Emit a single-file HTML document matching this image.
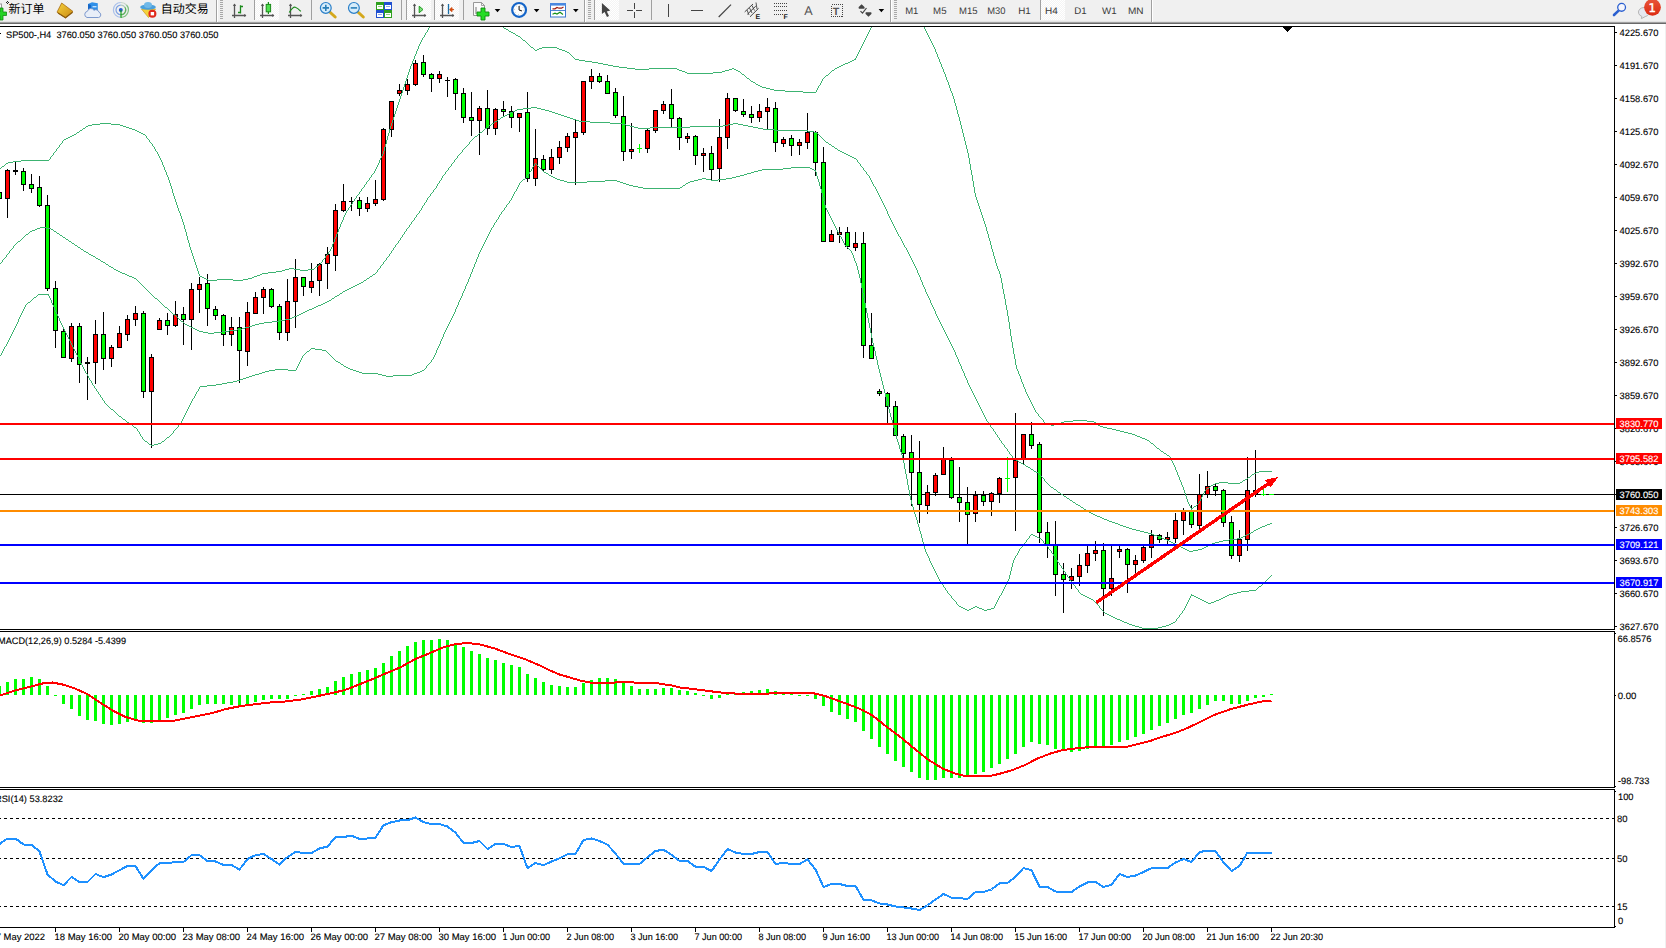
<!DOCTYPE html>
<html><head><meta charset="utf-8"><title>SP500-,H4</title>
<style>html,body{margin:0;padding:0;background:#fff;overflow:hidden}svg{display:block}</style>
</head><body>
<svg width="1666" height="948" viewBox="0 0 1666 948" font-family="Liberation Sans, sans-serif" text-rendering="geometricPrecision">
<rect x="0" y="0" width="1666" height="948" fill="#fff"/>
<g id="toolbar">
<rect x="0" y="0" width="1666" height="22" fill="#f0f0f0"/>
<rect x="0" y="21" width="1666" height="1" fill="#e3e3e3"/>
<rect x="0" y="22" width="1666" height="1" fill="#a0a0a0"/>
<rect x="0" y="23" width="1666" height="1" fill="#696969"/>
<defs>
<pattern id="chk" width="2" height="2" patternUnits="userSpaceOnUse"><rect width="2" height="2" fill="#f4f4f4"/><rect width="1" height="1" fill="#fff"/><rect x="1" y="1" width="1" height="1" fill="#fff"/></pattern>
<linearGradient id="gold" x1="0" y1="0" x2="1" y2="1"><stop offset="0" stop-color="#f7d23c"/><stop offset="1" stop-color="#c98a14"/></linearGradient>
<linearGradient id="redg" x1="0" y1="0" x2="0" y2="1"><stop offset="0" stop-color="#e8553a"/><stop offset="1" stop-color="#dc2a12"/></linearGradient>
<g id="axes"><path d="M2.5,4 V18 M0,15.5 H14" stroke="#555" stroke-width="1.3" fill="none"/><path d="M2.5,3.4 L0.9,5.9 H4.1 Z M14.4,15.5 L12.1,13.9 V17.1 Z" fill="#555"/></g>
<path id="dd" d="M0,0 H5.6 L2.8,3.2 Z" fill="#000"/>
<g id="grip" shape-rendering="crispEdges"><path d="M0,0.5H3 M0,2.5H3 M0,4.5H3 M0,6.5H3 M0,8.5H3 M0,10.5H3 M0,12.5H3 M0,14.5H3 M0,16.5H3 M0,18.5H3" stroke="#a8a8a8" stroke-width="1"/></g>
</defs>
<!-- pressed button backgrounds -->
<g shape-rendering="crispEdges">
<rect x="255" y="0" width="24" height="20" fill="url(#chk)"/>
<rect x="407" y="0" width="24" height="20" fill="url(#chk)"/>
<rect x="435" y="0" width="24" height="20" fill="url(#chk)"/>
<rect x="595" y="0" width="24" height="20" fill="url(#chk)"/>
<rect x="1041" y="0" width="24" height="20" fill="url(#chk)"/>
<!-- separators -->
<g fill="#a0a0a0">
<rect x="216" y="0" width="1" height="22"/><rect x="254" y="0" width="1" height="20"/><rect x="311" y="0" width="1" height="20"/>
<rect x="401" y="0" width="1" height="20"/><rect x="406" y="0" width="1" height="20"/><rect x="434" y="0" width="1" height="20"/><rect x="463" y="0" width="1" height="20"/>
<rect x="584" y="0" width="1" height="22"/><rect x="594" y="0" width="1" height="20"/><rect x="651" y="0" width="1" height="20"/>
<rect x="890" y="0" width="1" height="22"/><rect x="1040" y="0" width="1" height="20"/><rect x="1151" y="0" width="1" height="22"/>
</g>
<g fill="#fff"><rect x="217" y="0" width="1" height="22"/><rect x="585" y="0" width="1" height="22"/><rect x="891" y="0" width="1" height="22"/><rect x="1152" y="0" width="1" height="22"/></g>
</g>
<use href="#grip" x="220" y="0"/><use href="#grip" x="588" y="0"/><use href="#grip" x="894" y="0"/>
<!-- new order icon (cut) -->
<rect x="-3" y="4" width="4.5" height="9" fill="#fafafa" stroke="#999" stroke-width="1"/>
<path d="M-3,12 H0 V8 H3 V12 H6.5 V15.5 H3 V20 H0 V15.5 H-3 Z" fill="#25d225" stroke="#128a12" stroke-width="0.8"/>
<g shape-rendering="crispEdges" fill="#222"><rect x="7" y="1" width="1" height="1"/><rect x="6" y="2" width="1" height="1"/><rect x="8" y="2" width="1" height="1"/><rect x="7" y="3" width="1" height="1"/></g>
<text x="8.6" y="13.4" font-size="12" font-family="Liberation Sans, Noto Sans CJK SC, sans-serif" fill="#000">新订单</text>
<!-- book icon -->
<path d="M61.7,3 L73,11.5 L65.5,17.8 L57,12.2 Z" fill="url(#gold)" stroke="#a86c10" stroke-width="0.8"/>
<path d="M58,13 L65.5,17.8 L72.6,12.2" fill="none" stroke="#8a5a0c" stroke-width="1.2"/>
<!-- server cloud -->
<path d="M88,4 L92,2.3 L97.8,3.2 L97.8,11 L88,11 Z" fill="#2f8fe8"/>
<path d="M88,4 L91,5 L91,11 L88,11 Z" fill="#1668c8"/>
<rect x="92.5" y="6" width="4" height="1.4" fill="#bfe0ff"/>
<path d="M87,17.5 a3.2,3.2 0 0 1 0.4,-6.2 a3.6,3.6 0 0 1 6.6,-1 a3.2,3.2 0 0 1 5,2 a2.7,2.7 0 0 1 -0.4,5.2 Z" fill="#e8eef8" stroke="#6f8fc8" stroke-width="0.9"/>
<!-- signal -->
<g fill="none" stroke-width="1.2">
<path d="M120.8,2.5 A7.4,7.4 0 0 0 120.8,17.3" stroke="#a9c0ea"/><path d="M120.8,5.1 A4.8,4.8 0 0 0 120.8,14.7" stroke="#7fa2e2"/><path d="M120.8,2.5 A7.4,7.4 0 0 1 126.5,5" stroke="#c4d4c8"/><path d="M120.8,5.1 A4.8,4.8 0 0 1 124.8,7" stroke="#b0c8c0"/>
<path d="M120.8,17.3 A7.4,7.4 0 0 0 126.5,5" stroke="#7fc07f"/><path d="M120.8,14.7 A4.8,4.8 0 0 0 124.8,7" stroke="#5fb05f"/>
</g>
<circle cx="120.8" cy="9.9" r="2" fill="#2a5fd0"/>
<path d="M121,10 V17.8" stroke="#18a018" stroke-width="1.2"/>
<!-- hat icon -->
<path d="M141.5,9 L155.5,9 L148.5,17.5 Z" fill="#f4d23c" stroke="#c89a18" stroke-width="0.7"/>
<ellipse cx="148" cy="7.2" rx="7.8" ry="2.6" fill="#4aa0dc"/>
<ellipse cx="148" cy="5" rx="4" ry="3" fill="#6fb8e8"/>
<circle cx="152.4" cy="13.7" r="4" fill="#e0281a"/>
<rect x="150.7" y="12" width="3.4" height="3.4" fill="#fff"/>
<text x="160.8" y="13.4" font-size="12" font-family="Liberation Sans, Noto Sans CJK SC, sans-serif" fill="#000">自动交易</text>
<!-- chart type icons -->
<use href="#axes" x="232" y="0"/>
<path d="M240.5,5.3 V13.6 M240.5,6.5 H243 M238,12.5 H240.5" stroke="#1a8a1a" stroke-width="1.3" fill="none"/>
<use href="#axes" x="260" y="0"/>
<path d="M268.4,2 V14" stroke="#1a8a1a" stroke-width="1.2"/><rect x="266.2" y="4.4" width="4.4" height="7.4" fill="#4fe04f" stroke="#1a8a1a" stroke-width="1"/>
<use href="#axes" x="288" y="0"/>
<path d="M289.2,12.5 Q293,6.5 295.3,7.2 T300.8,11.4" stroke="#1a8a1a" stroke-width="1.2" fill="none"/>
<!-- zoom in/out -->
<path d="M329.8,12 L335.2,17" stroke="#d4a81c" stroke-width="3" stroke-linecap="round"/>
<circle cx="325.8" cy="7.9" r="5.4" fill="#d6ecfa" stroke="#2a7fc8" stroke-width="1.2"/>
<path d="M322.6,7.9 H329 M325.8,4.7 V11.1" stroke="#2a7fb8" stroke-width="1.6"/>
<path d="M357.9,12 L363.3,17" stroke="#d4a81c" stroke-width="3" stroke-linecap="round"/>
<circle cx="353.9" cy="7.9" r="5.4" fill="#d6ecfa" stroke="#2a7fc8" stroke-width="1.2"/>
<path d="M350.7,7.9 H357.1" stroke="#2a7fb8" stroke-width="1.6"/>
<!-- grid -->
<g shape-rendering="crispEdges">
<rect x="376" y="2" width="8" height="8" fill="#2ea01e"/><rect x="384" y="2" width="8" height="8" fill="#2050d0"/>
<rect x="376" y="10" width="8" height="8" fill="#2050d0"/><rect x="384" y="10" width="8" height="8" fill="#2ea01e"/>
<rect x="377" y="5" width="6" height="4" fill="#fff"/><rect x="385" y="5" width="6" height="4" fill="#fff"/>
<rect x="377" y="13" width="6" height="4" fill="#fff"/><rect x="385" y="13" width="6" height="4" fill="#fff"/>
<rect x="378" y="6" width="4" height="1" fill="#8fd080"/><rect x="386" y="6" width="4" height="1" fill="#8fa8e8"/>
<rect x="378" y="14" width="4" height="1" fill="#8fa8e8"/><rect x="386" y="14" width="4" height="1" fill="#8fd080"/>
</g>
<!-- autoscroll / shift -->
<use href="#axes" x="412" y="0"/>
<path d="M419.2,6.2 V12.8 L423,9.5 Z" fill="#7fe07f" stroke="#1a9a1a" stroke-width="1"/>
<use href="#axes" x="440" y="0"/>
<path d="M448.5,4 V14" stroke="#1a6fa8" stroke-width="1.3"/>
<path d="M454,9.6 H450 M449.6,9.6 L452,7.6 V11.6 Z" stroke="#d04a10" stroke-width="1" fill="#e05a10"/>
<!-- doc plus -->
<path d="M473.5,2.5 H481.5 L484.5,5.5 V15.5 H473.5 Z" fill="#fafafa" stroke="#8c8c8c" stroke-width="0.9"/>
<path d="M481.5,2.5 V5.5 H484.5" fill="none" stroke="#8c8c8c" stroke-width="0.8"/>
<path d="M476,7 v7" stroke="#555" stroke-width="0.8"/>
<path d="M477,12 H481 V8 H485 V12 H489 V16 H485 V20 H481 V16 H477 Z" fill="#25dc25" stroke="#108a10" stroke-width="0.9"/>
<use href="#dd" x="494.7" y="9"/>
<!-- clock -->
<circle cx="519.1" cy="9.9" r="6.9" fill="#fdfdfd" stroke="#1565c8" stroke-width="2.2"/><circle cx="519.1" cy="9.9" r="4.6" fill="none" stroke="#9aa" stroke-width="0.9" stroke-dasharray="0.7,2.9"/>
<path d="M519.1,9.9 V6 M519.1,9.9 L522,11" stroke="#222" stroke-width="1.1" fill="none"/>
<use href="#dd" x="533.8" y="9"/>
<!-- template -->
<rect x="550.5" y="3.5" width="15" height="13.5" fill="#fff" stroke="#3a78d0" stroke-width="1"/>
<rect x="550" y="3" width="16" height="2.6" fill="#4a88e0"/>
<path d="M551,10.5 H565" stroke="#3a78d0" stroke-width="0.9"/>
<path d="M552.5,8.8 L555,8.8 L557,7.4 L559,8.2 L561.5,8.2 L563.5,7" stroke="#a01c10" stroke-width="1.2" fill="none"/>
<path d="M552.5,14.2 L555,13.2 L557,14 L560,12.2 L563,14.4" stroke="#169016" stroke-width="1.2" fill="none"/>
<use href="#dd" x="573" y="9"/>
<!-- cursor -->
<path d="M601.9,3 V14 L604.6,12 L607,17 L609,16 L606.8,11.4 L610.2,10.6 Z" fill="#444"/>
<!-- crosshair -->
<g shape-rendering="crispEdges"><path d="M627,10.5 H633 M636,10.5 H642 M634.5,3 V9 M634.5,12 V18" stroke="#444" stroke-width="1"/>
<path d="M668.5,4 V17" stroke="#444" stroke-width="1"/><path d="M691,10.5 H703" stroke="#444" stroke-width="1"/></g>
<path d="M718.7,17 L731,4.6" stroke="#444" stroke-width="1.2"/>
<!-- channel -->
<g stroke="#444" stroke-width="1" fill="none"><path d="M744.7,11.9 L753,4 M750,16.8 L758.6,8.3 M747.3,14.3 L755.8,6.1"/><path d="M747,10 L749,15 M749.5,8 L752,13 M752,5.5 L754.5,10.5 M756,2.5 L757,9" stroke-width="0.9"/></g>
<text x="755.6" y="18.9" font-size="7" font-weight="bold" fill="#222">E</text>
<!-- fibo -->
<g stroke="#444" stroke-width="1" stroke-dasharray="1,1" shape-rendering="crispEdges"><path d="M774,3.5 H787 M774,6.5 H787 M774,10.5 H787 M774,14.5 H783"/></g>
<text x="783.6" y="18.9" font-size="7" font-weight="bold" fill="#222">F</text>
<text x="804.3" y="14.9" font-size="12.6" fill="#555">A</text>
<rect x="831.5" y="4.5" width="11" height="12" fill="none" stroke="#444" stroke-width="1" stroke-dasharray="1,1" shape-rendering="crispEdges"/>
<text x="832.8" y="14.9" font-size="10.6" font-weight="bold" fill="#555">T</text>
<!-- arrows -->
<path d="M861.6,4.2 L858.2,7.6 H865 Z M858.8,7.6 h5.6 v1.2 h-5.6 Z" fill="#444"/>
<path d="M868.5,16.8 L865.1,13.4 H871.9 Z M865.7,12.2 h5.6 v1.2 h-5.6 Z" fill="#444"/>
<path d="M860.5,11.2 L862.5,13.2 L866.5,8" stroke="#444" stroke-width="1.2" fill="none"/>
<use href="#dd" x="878.6" y="9"/>
<!-- timeframes -->
<g font-size="9.6" fill="#3a3a3a">
<text x="905.2" y="14" textLength="13.2" lengthAdjust="spacingAndGlyphs">M1</text>
<text x="933.1" y="14" textLength="13.4" lengthAdjust="spacingAndGlyphs">M5</text>
<text x="959.1" y="14" textLength="18.5" lengthAdjust="spacingAndGlyphs">M15</text>
<text x="987.3" y="14" textLength="18.2" lengthAdjust="spacingAndGlyphs">M30</text>
<text x="1018.2" y="14" textLength="12.6" lengthAdjust="spacingAndGlyphs">H1</text>
<text x="1045.1" y="14" textLength="12.8" lengthAdjust="spacingAndGlyphs">H4</text>
<text x="1074.2" y="14" textLength="12.4" lengthAdjust="spacingAndGlyphs">D1</text>
<text x="1102" y="14" textLength="14.6" lengthAdjust="spacingAndGlyphs">W1</text>
<text x="1128" y="14" textLength="15.6" lengthAdjust="spacingAndGlyphs">MN</text>
</g>
<!-- search -->
<path d="M1618.6,10.6 L1614,15" stroke="#2a5fd0" stroke-width="2.6" stroke-linecap="round"/>
<circle cx="1621.6" cy="7.35" r="3.9" fill="#f6f6fc" stroke="#2a5fd0" stroke-width="1.3"/>
<!-- bubble -->
<path d="M1641.4,18.6 L1641.8,16.4 A5.4,4.6 0 1 1 1645.2,16.6 Z" fill="#e6e8f0" stroke="#b4b4b4" stroke-width="1"/>
<circle cx="1652.5" cy="7.35" r="8.4" fill="url(#redg)"/>
<text x="1648.4" y="12" font-size="11.6" font-family="DejaVu Sans, sans-serif" fill="#fff" stroke="#fff" stroke-width="0.4">1</text>

</g>
<rect x="1665" y="24" width="1" height="924" fill="#f0f0f0"/>
<g shape-rendering="crispEdges">
<rect x="0" y="26" width="1615" height="1" fill="#000"/>
<rect x="1614" y="26" width="1" height="604" fill="#000"/>
<rect x="1614" y="631" width="1" height="157" fill="#000"/>
<rect x="1614" y="789" width="1" height="139" fill="#000"/>
<rect x="0" y="629" width="1615" height="1" fill="#000"/>
<rect x="0" y="631" width="1615" height="1" fill="#000"/>
<rect x="0" y="787" width="1615" height="1" fill="#000"/>
<rect x="0" y="789" width="1615" height="1" fill="#000"/>
<rect x="0" y="927" width="1615" height="1" fill="#000"/>
<rect x="1283" y="27" width="9" height="1" fill="#000"/>
<rect x="1284" y="28" width="7" height="1" fill="#000"/>
<rect x="1285" y="29" width="5" height="1" fill="#000"/>
<rect x="1286" y="30" width="3" height="1" fill="#000"/>
<rect x="1287" y="31" width="1" height="1" fill="#000"/>
<g clip-path="url(#cm)">
<defs><clipPath id="cm"><rect x="0" y="27" width="1614" height="602"/></clipPath></defs>
<rect x="0" y="494" width="1614" height="1" fill="#000"/>
<rect x="-1" y="192" width="1" height="7" fill="#000"/>
<rect x="-3" y="192" width="5" height="7" fill="#000"/>
<rect x="-2" y="193" width="3" height="5" fill="#00ff00"/>
<rect x="7" y="169" width="1" height="49" fill="#000"/>
<rect x="5" y="170" width="5" height="29" fill="#000"/>
<rect x="6" y="171" width="3" height="27" fill="#ff0000"/>
<rect x="15" y="162" width="1" height="13" fill="#000"/>
<rect x="13" y="170" width="5" height="2" fill="#000"/>
<rect x="23" y="168" width="1" height="23" fill="#000"/>
<rect x="21" y="171" width="5" height="14" fill="#000"/>
<rect x="22" y="172" width="3" height="12" fill="#00ff00"/>
<rect x="31" y="174" width="1" height="19" fill="#000"/>
<rect x="29" y="184" width="5" height="5" fill="#000"/>
<rect x="30" y="185" width="3" height="3" fill="#00ff00"/>
<rect x="39" y="176" width="1" height="31" fill="#000"/>
<rect x="37" y="187" width="5" height="19" fill="#000"/>
<rect x="38" y="188" width="3" height="17" fill="#00ff00"/>
<rect x="47" y="195" width="1" height="96" fill="#000"/>
<rect x="45" y="205" width="5" height="84" fill="#000"/>
<rect x="46" y="206" width="3" height="82" fill="#00ff00"/>
<rect x="55" y="281" width="1" height="67" fill="#000"/>
<rect x="53" y="288" width="5" height="43" fill="#000"/>
<rect x="54" y="289" width="3" height="41" fill="#00ff00"/>
<rect x="63" y="329" width="1" height="29" fill="#000"/>
<rect x="61" y="331" width="5" height="27" fill="#000"/>
<rect x="62" y="332" width="3" height="25" fill="#00ff00"/>
<rect x="71" y="323" width="1" height="39" fill="#000"/>
<rect x="69" y="326" width="5" height="33" fill="#000"/>
<rect x="70" y="327" width="3" height="31" fill="#ff0000"/>
<rect x="79" y="323" width="1" height="60" fill="#000"/>
<rect x="77" y="326" width="5" height="39" fill="#000"/>
<rect x="78" y="327" width="3" height="37" fill="#00ff00"/>
<rect x="87" y="357" width="1" height="43" fill="#000"/>
<rect x="85" y="362" width="5" height="2" fill="#000"/>
<rect x="95" y="320" width="1" height="64" fill="#000"/>
<rect x="93" y="334" width="5" height="29" fill="#000"/>
<rect x="94" y="335" width="3" height="27" fill="#ff0000"/>
<rect x="103" y="312" width="1" height="58" fill="#000"/>
<rect x="101" y="334" width="5" height="25" fill="#000"/>
<rect x="102" y="335" width="3" height="23" fill="#00ff00"/>
<rect x="111" y="345" width="1" height="22" fill="#000"/>
<rect x="109" y="347" width="5" height="12" fill="#000"/>
<rect x="110" y="348" width="3" height="10" fill="#ff0000"/>
<rect x="119" y="326" width="1" height="22" fill="#000"/>
<rect x="117" y="333" width="5" height="15" fill="#000"/>
<rect x="118" y="334" width="3" height="13" fill="#ff0000"/>
<rect x="127" y="315" width="1" height="26" fill="#000"/>
<rect x="125" y="319" width="5" height="16" fill="#000"/>
<rect x="126" y="320" width="3" height="14" fill="#ff0000"/>
<rect x="135" y="306" width="1" height="20" fill="#000"/>
<rect x="133" y="313" width="5" height="7" fill="#000"/>
<rect x="134" y="314" width="3" height="5" fill="#ff0000"/>
<rect x="143" y="311" width="1" height="87" fill="#000"/>
<rect x="141" y="313" width="5" height="79" fill="#000"/>
<rect x="142" y="314" width="3" height="77" fill="#00ff00"/>
<rect x="151" y="354" width="1" height="94" fill="#000"/>
<rect x="149" y="357" width="5" height="35" fill="#000"/>
<rect x="150" y="358" width="3" height="33" fill="#ff0000"/>
<rect x="159" y="318" width="1" height="12" fill="#000"/>
<rect x="157" y="320" width="5" height="10" fill="#000"/>
<rect x="158" y="321" width="3" height="8" fill="#ff0000"/>
<rect x="167" y="313" width="1" height="22" fill="#000"/>
<rect x="165" y="320" width="5" height="6" fill="#000"/>
<rect x="166" y="321" width="3" height="4" fill="#00ff00"/>
<rect x="175" y="301" width="1" height="26" fill="#000"/>
<rect x="173" y="314" width="5" height="12" fill="#000"/>
<rect x="174" y="315" width="3" height="10" fill="#ff0000"/>
<rect x="183" y="307" width="1" height="38" fill="#000"/>
<rect x="181" y="314" width="5" height="6" fill="#000"/>
<rect x="182" y="315" width="3" height="4" fill="#00ff00"/>
<rect x="191" y="283" width="1" height="67" fill="#000"/>
<rect x="189" y="289" width="5" height="31" fill="#000"/>
<rect x="190" y="290" width="3" height="29" fill="#ff0000"/>
<rect x="199" y="277" width="1" height="36" fill="#000"/>
<rect x="197" y="284" width="5" height="6" fill="#000"/>
<rect x="198" y="285" width="3" height="4" fill="#ff0000"/>
<rect x="207" y="274" width="1" height="52" fill="#000"/>
<rect x="205" y="283" width="5" height="26" fill="#000"/>
<rect x="206" y="284" width="3" height="24" fill="#00ff00"/>
<rect x="215" y="306" width="1" height="14" fill="#000"/>
<rect x="213" y="309" width="5" height="7" fill="#000"/>
<rect x="214" y="310" width="3" height="5" fill="#00ff00"/>
<rect x="223" y="314" width="1" height="32" fill="#000"/>
<rect x="221" y="315" width="5" height="20" fill="#000"/>
<rect x="222" y="316" width="3" height="18" fill="#00ff00"/>
<rect x="231" y="317" width="1" height="29" fill="#000"/>
<rect x="229" y="327" width="5" height="8" fill="#000"/>
<rect x="230" y="328" width="3" height="6" fill="#ff0000"/>
<rect x="239" y="317" width="1" height="66" fill="#000"/>
<rect x="237" y="327" width="5" height="24" fill="#000"/>
<rect x="238" y="328" width="3" height="22" fill="#00ff00"/>
<rect x="247" y="302" width="1" height="64" fill="#000"/>
<rect x="245" y="312" width="5" height="40" fill="#000"/>
<rect x="246" y="313" width="3" height="38" fill="#ff0000"/>
<rect x="255" y="292" width="1" height="22" fill="#000"/>
<rect x="253" y="297" width="5" height="17" fill="#000"/>
<rect x="254" y="298" width="3" height="15" fill="#ff0000"/>
<rect x="263" y="287" width="1" height="27" fill="#000"/>
<rect x="261" y="289" width="5" height="9" fill="#000"/>
<rect x="262" y="290" width="3" height="7" fill="#ff0000"/>
<rect x="271" y="288" width="1" height="20" fill="#000"/>
<rect x="269" y="289" width="5" height="18" fill="#000"/>
<rect x="270" y="290" width="3" height="16" fill="#00ff00"/>
<rect x="279" y="304" width="1" height="36" fill="#000"/>
<rect x="277" y="306" width="5" height="27" fill="#000"/>
<rect x="278" y="307" width="3" height="25" fill="#00ff00"/>
<rect x="287" y="279" width="1" height="62" fill="#000"/>
<rect x="285" y="301" width="5" height="32" fill="#000"/>
<rect x="286" y="302" width="3" height="30" fill="#ff0000"/>
<rect x="295" y="259" width="1" height="69" fill="#000"/>
<rect x="293" y="277" width="5" height="25" fill="#000"/>
<rect x="294" y="278" width="3" height="23" fill="#ff0000"/>
<rect x="303" y="277" width="1" height="19" fill="#000"/>
<rect x="301" y="277" width="5" height="10" fill="#000"/>
<rect x="302" y="278" width="3" height="8" fill="#00ff00"/>
<rect x="311" y="263" width="1" height="30" fill="#000"/>
<rect x="309" y="281" width="5" height="7" fill="#000"/>
<rect x="310" y="282" width="3" height="5" fill="#ff0000"/>
<rect x="319" y="263" width="1" height="33" fill="#000"/>
<rect x="317" y="264" width="5" height="17" fill="#000"/>
<rect x="318" y="265" width="3" height="15" fill="#ff0000"/>
<rect x="327" y="247" width="1" height="42" fill="#000"/>
<rect x="325" y="254" width="5" height="10" fill="#000"/>
<rect x="326" y="255" width="3" height="8" fill="#ff0000"/>
<rect x="335" y="204" width="1" height="67" fill="#000"/>
<rect x="333" y="210" width="5" height="46" fill="#000"/>
<rect x="334" y="211" width="3" height="44" fill="#ff0000"/>
<rect x="343" y="184" width="1" height="28" fill="#000"/>
<rect x="341" y="201" width="5" height="10" fill="#000"/>
<rect x="342" y="202" width="3" height="8" fill="#ff0000"/>
<rect x="351" y="197" width="1" height="14" fill="#000"/>
<rect x="349" y="201" width="5" height="1" fill="#000"/>
<rect x="359" y="197" width="1" height="19" fill="#000"/>
<rect x="357" y="200" width="5" height="9" fill="#000"/>
<rect x="358" y="201" width="3" height="7" fill="#00ff00"/>
<rect x="367" y="197" width="1" height="15" fill="#000"/>
<rect x="365" y="203" width="5" height="6" fill="#000"/>
<rect x="366" y="204" width="3" height="4" fill="#ff0000"/>
<rect x="375" y="180" width="1" height="26" fill="#000"/>
<rect x="373" y="199" width="5" height="5" fill="#000"/>
<rect x="374" y="200" width="3" height="3" fill="#ff0000"/>
<rect x="383" y="128" width="1" height="73" fill="#000"/>
<rect x="381" y="129" width="5" height="71" fill="#000"/>
<rect x="382" y="130" width="3" height="69" fill="#ff0000"/>
<rect x="391" y="101" width="1" height="36" fill="#000"/>
<rect x="389" y="101" width="5" height="29" fill="#000"/>
<rect x="390" y="102" width="3" height="27" fill="#ff0000"/>
<rect x="399" y="84" width="1" height="12" fill="#000"/>
<rect x="397" y="90" width="5" height="4" fill="#000"/>
<rect x="398" y="91" width="3" height="2" fill="#ff0000"/>
<rect x="407" y="79" width="1" height="16" fill="#000"/>
<rect x="405" y="84" width="5" height="7" fill="#000"/>
<rect x="406" y="85" width="3" height="5" fill="#ff0000"/>
<rect x="415" y="60" width="1" height="26" fill="#000"/>
<rect x="413" y="63" width="5" height="22" fill="#000"/>
<rect x="414" y="64" width="3" height="20" fill="#ff0000"/>
<rect x="423" y="55" width="1" height="22" fill="#000"/>
<rect x="421" y="62" width="5" height="13" fill="#000"/>
<rect x="422" y="63" width="3" height="11" fill="#00ff00"/>
<rect x="431" y="73" width="1" height="19" fill="#000"/>
<rect x="429" y="74" width="5" height="5" fill="#000"/>
<rect x="430" y="75" width="3" height="3" fill="#00ff00"/>
<rect x="439" y="71" width="1" height="12" fill="#000"/>
<rect x="437" y="74" width="5" height="5" fill="#000"/>
<rect x="438" y="75" width="3" height="3" fill="#ff0000"/>
<rect x="447" y="77" width="1" height="20" fill="#000"/>
<rect x="445" y="80" width="5" height="1" fill="#000"/>
<rect x="455" y="78" width="1" height="32" fill="#000"/>
<rect x="453" y="79" width="5" height="15" fill="#000"/>
<rect x="454" y="80" width="3" height="13" fill="#00ff00"/>
<rect x="463" y="88" width="1" height="35" fill="#000"/>
<rect x="461" y="93" width="5" height="25" fill="#000"/>
<rect x="462" y="94" width="3" height="23" fill="#00ff00"/>
<rect x="471" y="92" width="1" height="44" fill="#000"/>
<rect x="469" y="117" width="5" height="4" fill="#000"/>
<rect x="470" y="118" width="3" height="2" fill="#00ff00"/>
<rect x="479" y="106" width="1" height="49" fill="#000"/>
<rect x="477" y="108" width="5" height="13" fill="#000"/>
<rect x="478" y="109" width="3" height="11" fill="#ff0000"/>
<rect x="487" y="90" width="1" height="45" fill="#000"/>
<rect x="485" y="108" width="5" height="21" fill="#000"/>
<rect x="486" y="109" width="3" height="19" fill="#00ff00"/>
<rect x="495" y="108" width="1" height="27" fill="#000"/>
<rect x="493" y="109" width="5" height="20" fill="#000"/>
<rect x="494" y="110" width="3" height="18" fill="#ff0000"/>
<rect x="503" y="101" width="1" height="15" fill="#000"/>
<rect x="501" y="109" width="5" height="3" fill="#000"/>
<rect x="502" y="110" width="3" height="1" fill="#00ff00"/>
<rect x="511" y="106" width="1" height="22" fill="#000"/>
<rect x="509" y="111" width="5" height="7" fill="#000"/>
<rect x="510" y="112" width="3" height="5" fill="#00ff00"/>
<rect x="519" y="113" width="1" height="19" fill="#000"/>
<rect x="517" y="113" width="5" height="5" fill="#000"/>
<rect x="518" y="114" width="3" height="3" fill="#ff0000"/>
<rect x="527" y="92" width="1" height="90" fill="#000"/>
<rect x="525" y="112" width="5" height="67" fill="#000"/>
<rect x="526" y="113" width="3" height="65" fill="#00ff00"/>
<rect x="535" y="129" width="1" height="57" fill="#000"/>
<rect x="533" y="158" width="5" height="21" fill="#000"/>
<rect x="534" y="159" width="3" height="19" fill="#ff0000"/>
<rect x="543" y="155" width="1" height="17" fill="#000"/>
<rect x="541" y="159" width="5" height="11" fill="#000"/>
<rect x="542" y="160" width="3" height="9" fill="#00ff00"/>
<rect x="551" y="149" width="1" height="25" fill="#000"/>
<rect x="549" y="157" width="5" height="13" fill="#000"/>
<rect x="550" y="158" width="3" height="11" fill="#ff0000"/>
<rect x="559" y="141" width="1" height="23" fill="#000"/>
<rect x="557" y="147" width="5" height="11" fill="#000"/>
<rect x="558" y="148" width="3" height="9" fill="#ff0000"/>
<rect x="567" y="133" width="1" height="19" fill="#000"/>
<rect x="565" y="136" width="5" height="12" fill="#000"/>
<rect x="566" y="137" width="3" height="10" fill="#ff0000"/>
<rect x="575" y="120" width="1" height="65" fill="#000"/>
<rect x="573" y="132" width="5" height="6" fill="#000"/>
<rect x="574" y="133" width="3" height="4" fill="#ff0000"/>
<rect x="583" y="81" width="1" height="54" fill="#000"/>
<rect x="581" y="81" width="5" height="52" fill="#000"/>
<rect x="582" y="82" width="3" height="50" fill="#ff0000"/>
<rect x="591" y="69" width="1" height="20" fill="#000"/>
<rect x="589" y="76" width="5" height="6" fill="#000"/>
<rect x="590" y="77" width="3" height="4" fill="#ff0000"/>
<rect x="599" y="73" width="1" height="10" fill="#000"/>
<rect x="597" y="76" width="5" height="6" fill="#000"/>
<rect x="598" y="77" width="3" height="4" fill="#00ff00"/>
<rect x="607" y="75" width="1" height="19" fill="#000"/>
<rect x="605" y="81" width="5" height="13" fill="#000"/>
<rect x="606" y="82" width="3" height="11" fill="#00ff00"/>
<rect x="615" y="88" width="1" height="30" fill="#000"/>
<rect x="613" y="92" width="5" height="24" fill="#000"/>
<rect x="614" y="93" width="3" height="22" fill="#00ff00"/>
<rect x="623" y="96" width="1" height="65" fill="#000"/>
<rect x="621" y="116" width="5" height="36" fill="#000"/>
<rect x="622" y="117" width="3" height="34" fill="#00ff00"/>
<rect x="631" y="123" width="1" height="36" fill="#000"/>
<rect x="629" y="149" width="5" height="3" fill="#000"/>
<rect x="630" y="150" width="3" height="1" fill="#ff0000"/>
<rect x="639" y="144" width="1" height="9" fill="#00ff00"/>
<rect x="637" y="148" width="5" height="1" fill="#00ff00"/>
<rect x="647" y="128" width="1" height="25" fill="#000"/>
<rect x="645" y="130" width="5" height="19" fill="#000"/>
<rect x="646" y="131" width="3" height="17" fill="#ff0000"/>
<rect x="655" y="110" width="1" height="23" fill="#000"/>
<rect x="653" y="110" width="5" height="21" fill="#000"/>
<rect x="654" y="111" width="3" height="19" fill="#ff0000"/>
<rect x="663" y="101" width="1" height="13" fill="#000"/>
<rect x="661" y="104" width="5" height="7" fill="#000"/>
<rect x="662" y="105" width="3" height="5" fill="#ff0000"/>
<rect x="671" y="89" width="1" height="39" fill="#000"/>
<rect x="669" y="104" width="5" height="15" fill="#000"/>
<rect x="670" y="105" width="3" height="13" fill="#00ff00"/>
<rect x="679" y="117" width="1" height="33" fill="#000"/>
<rect x="677" y="118" width="5" height="20" fill="#000"/>
<rect x="678" y="119" width="3" height="18" fill="#00ff00"/>
<rect x="687" y="133" width="1" height="10" fill="#000"/>
<rect x="685" y="136" width="5" height="3" fill="#000"/>
<rect x="686" y="137" width="3" height="1" fill="#ff0000"/>
<rect x="695" y="135" width="1" height="30" fill="#000"/>
<rect x="693" y="136" width="5" height="20" fill="#000"/>
<rect x="694" y="137" width="3" height="18" fill="#00ff00"/>
<rect x="703" y="148" width="1" height="24" fill="#000"/>
<rect x="701" y="153" width="5" height="3" fill="#000"/>
<rect x="702" y="154" width="3" height="1" fill="#ff0000"/>
<rect x="711" y="146" width="1" height="34" fill="#000"/>
<rect x="709" y="153" width="5" height="17" fill="#000"/>
<rect x="710" y="154" width="3" height="15" fill="#00ff00"/>
<rect x="719" y="119" width="1" height="63" fill="#000"/>
<rect x="717" y="137" width="5" height="32" fill="#000"/>
<rect x="718" y="138" width="3" height="30" fill="#ff0000"/>
<rect x="727" y="93" width="1" height="56" fill="#000"/>
<rect x="725" y="98" width="5" height="40" fill="#000"/>
<rect x="726" y="99" width="3" height="38" fill="#ff0000"/>
<rect x="735" y="98" width="1" height="14" fill="#000"/>
<rect x="733" y="98" width="5" height="13" fill="#000"/>
<rect x="734" y="99" width="3" height="11" fill="#00ff00"/>
<rect x="743" y="99" width="1" height="18" fill="#000"/>
<rect x="741" y="111" width="5" height="4" fill="#000"/>
<rect x="742" y="112" width="3" height="2" fill="#00ff00"/>
<rect x="751" y="106" width="1" height="17" fill="#000"/>
<rect x="749" y="114" width="5" height="4" fill="#000"/>
<rect x="750" y="115" width="3" height="2" fill="#00ff00"/>
<rect x="759" y="104" width="1" height="18" fill="#000"/>
<rect x="757" y="111" width="5" height="7" fill="#000"/>
<rect x="758" y="112" width="3" height="5" fill="#ff0000"/>
<rect x="767" y="98" width="1" height="31" fill="#000"/>
<rect x="765" y="107" width="5" height="5" fill="#000"/>
<rect x="766" y="108" width="3" height="3" fill="#ff0000"/>
<rect x="775" y="102" width="1" height="50" fill="#000"/>
<rect x="773" y="108" width="5" height="35" fill="#000"/>
<rect x="774" y="109" width="3" height="33" fill="#00ff00"/>
<rect x="783" y="137" width="1" height="10" fill="#000"/>
<rect x="781" y="139" width="5" height="5" fill="#000"/>
<rect x="782" y="140" width="3" height="3" fill="#ff0000"/>
<rect x="791" y="135" width="1" height="21" fill="#000"/>
<rect x="789" y="138" width="5" height="8" fill="#000"/>
<rect x="790" y="139" width="3" height="6" fill="#00ff00"/>
<rect x="799" y="139" width="1" height="16" fill="#000"/>
<rect x="797" y="142" width="5" height="4" fill="#000"/>
<rect x="798" y="143" width="3" height="2" fill="#ff0000"/>
<rect x="807" y="113" width="1" height="36" fill="#000"/>
<rect x="805" y="132" width="5" height="11" fill="#000"/>
<rect x="806" y="133" width="3" height="9" fill="#ff0000"/>
<rect x="815" y="131" width="1" height="45" fill="#000"/>
<rect x="813" y="132" width="5" height="31" fill="#000"/>
<rect x="814" y="133" width="3" height="29" fill="#00ff00"/>
<rect x="823" y="147" width="1" height="95" fill="#000"/>
<rect x="821" y="162" width="5" height="80" fill="#000"/>
<rect x="822" y="163" width="3" height="78" fill="#00ff00"/>
<rect x="831" y="230" width="1" height="12" fill="#000"/>
<rect x="829" y="234" width="5" height="8" fill="#000"/>
<rect x="830" y="235" width="3" height="6" fill="#ff0000"/>
<rect x="839" y="227" width="1" height="16" fill="#000"/>
<rect x="837" y="232" width="5" height="3" fill="#000"/>
<rect x="838" y="233" width="3" height="1" fill="#ff0000"/>
<rect x="847" y="227" width="1" height="22" fill="#000"/>
<rect x="845" y="232" width="5" height="15" fill="#000"/>
<rect x="846" y="233" width="3" height="13" fill="#00ff00"/>
<rect x="855" y="232" width="1" height="19" fill="#000"/>
<rect x="853" y="243" width="5" height="5" fill="#000"/>
<rect x="854" y="244" width="3" height="3" fill="#ff0000"/>
<rect x="863" y="232" width="1" height="126" fill="#000"/>
<rect x="861" y="243" width="5" height="103" fill="#000"/>
<rect x="862" y="244" width="3" height="101" fill="#00ff00"/>
<rect x="871" y="313" width="1" height="46" fill="#000"/>
<rect x="869" y="345" width="5" height="14" fill="#000"/>
<rect x="870" y="346" width="3" height="12" fill="#00ff00"/>
<rect x="879" y="389" width="1" height="7" fill="#000"/>
<rect x="877" y="391" width="5" height="3" fill="#000"/>
<rect x="878" y="392" width="3" height="1" fill="#00ff00"/>
<rect x="887" y="392" width="1" height="31" fill="#000"/>
<rect x="885" y="393" width="5" height="14" fill="#000"/>
<rect x="886" y="394" width="3" height="12" fill="#00ff00"/>
<rect x="895" y="401" width="1" height="35" fill="#000"/>
<rect x="893" y="406" width="5" height="30" fill="#000"/>
<rect x="894" y="407" width="3" height="28" fill="#00ff00"/>
<rect x="903" y="434" width="1" height="24" fill="#000"/>
<rect x="901" y="436" width="5" height="18" fill="#000"/>
<rect x="902" y="437" width="3" height="16" fill="#00ff00"/>
<rect x="911" y="435" width="1" height="71" fill="#000"/>
<rect x="909" y="452" width="5" height="21" fill="#000"/>
<rect x="910" y="453" width="3" height="19" fill="#00ff00"/>
<rect x="919" y="441" width="1" height="82" fill="#000"/>
<rect x="917" y="472" width="5" height="33" fill="#000"/>
<rect x="918" y="473" width="3" height="31" fill="#00ff00"/>
<rect x="927" y="485" width="1" height="29" fill="#000"/>
<rect x="925" y="492" width="5" height="14" fill="#000"/>
<rect x="926" y="493" width="3" height="12" fill="#ff0000"/>
<rect x="935" y="473" width="1" height="23" fill="#000"/>
<rect x="933" y="475" width="5" height="18" fill="#000"/>
<rect x="934" y="476" width="3" height="16" fill="#ff0000"/>
<rect x="943" y="447" width="1" height="28" fill="#000"/>
<rect x="941" y="459" width="5" height="16" fill="#000"/>
<rect x="942" y="460" width="3" height="14" fill="#ff0000"/>
<rect x="951" y="457" width="1" height="42" fill="#000"/>
<rect x="949" y="460" width="5" height="38" fill="#000"/>
<rect x="950" y="461" width="3" height="36" fill="#00ff00"/>
<rect x="959" y="467" width="1" height="55" fill="#000"/>
<rect x="957" y="497" width="5" height="6" fill="#000"/>
<rect x="958" y="498" width="3" height="4" fill="#00ff00"/>
<rect x="967" y="487" width="1" height="58" fill="#000"/>
<rect x="965" y="502" width="5" height="13" fill="#000"/>
<rect x="966" y="503" width="3" height="11" fill="#00ff00"/>
<rect x="975" y="491" width="1" height="31" fill="#000"/>
<rect x="973" y="495" width="5" height="19" fill="#000"/>
<rect x="974" y="496" width="3" height="17" fill="#ff0000"/>
<rect x="983" y="491" width="1" height="15" fill="#000"/>
<rect x="981" y="495" width="5" height="7" fill="#000"/>
<rect x="982" y="496" width="3" height="5" fill="#00ff00"/>
<rect x="991" y="492" width="1" height="24" fill="#000"/>
<rect x="989" y="493" width="5" height="9" fill="#000"/>
<rect x="990" y="494" width="3" height="7" fill="#ff0000"/>
<rect x="999" y="477" width="1" height="26" fill="#000"/>
<rect x="997" y="478" width="5" height="16" fill="#000"/>
<rect x="998" y="479" width="3" height="14" fill="#ff0000"/>
<rect x="1007" y="457" width="1" height="35" fill="#00ff00"/>
<rect x="1005" y="478" width="5" height="1" fill="#00ff00"/>
<rect x="1015" y="413" width="1" height="118" fill="#000"/>
<rect x="1013" y="460" width="5" height="18" fill="#000"/>
<rect x="1014" y="461" width="3" height="16" fill="#ff0000"/>
<rect x="1023" y="434" width="1" height="31" fill="#000"/>
<rect x="1021" y="434" width="5" height="26" fill="#000"/>
<rect x="1022" y="435" width="3" height="24" fill="#ff0000"/>
<rect x="1031" y="422" width="1" height="27" fill="#000"/>
<rect x="1029" y="434" width="5" height="12" fill="#000"/>
<rect x="1030" y="435" width="3" height="10" fill="#00ff00"/>
<rect x="1039" y="442" width="1" height="101" fill="#000"/>
<rect x="1037" y="444" width="5" height="89" fill="#000"/>
<rect x="1038" y="445" width="3" height="87" fill="#00ff00"/>
<rect x="1047" y="522" width="1" height="36" fill="#000"/>
<rect x="1045" y="532" width="5" height="13" fill="#000"/>
<rect x="1046" y="533" width="3" height="11" fill="#00ff00"/>
<rect x="1055" y="521" width="1" height="75" fill="#000"/>
<rect x="1053" y="544" width="5" height="31" fill="#000"/>
<rect x="1054" y="545" width="3" height="29" fill="#00ff00"/>
<rect x="1063" y="563" width="1" height="50" fill="#000"/>
<rect x="1061" y="574" width="5" height="6" fill="#000"/>
<rect x="1062" y="575" width="3" height="4" fill="#00ff00"/>
<rect x="1071" y="568" width="1" height="21" fill="#000"/>
<rect x="1069" y="576" width="5" height="5" fill="#000"/>
<rect x="1070" y="577" width="3" height="3" fill="#ff0000"/>
<rect x="1079" y="554" width="1" height="32" fill="#000"/>
<rect x="1077" y="565" width="5" height="12" fill="#000"/>
<rect x="1078" y="566" width="3" height="10" fill="#ff0000"/>
<rect x="1087" y="545" width="1" height="28" fill="#000"/>
<rect x="1085" y="553" width="5" height="13" fill="#000"/>
<rect x="1086" y="554" width="3" height="11" fill="#ff0000"/>
<rect x="1095" y="541" width="1" height="20" fill="#000"/>
<rect x="1093" y="550" width="5" height="4" fill="#000"/>
<rect x="1094" y="551" width="3" height="2" fill="#ff0000"/>
<rect x="1103" y="543" width="1" height="73" fill="#000"/>
<rect x="1101" y="550" width="5" height="39" fill="#000"/>
<rect x="1102" y="551" width="3" height="37" fill="#00ff00"/>
<rect x="1111" y="546" width="1" height="50" fill="#000"/>
<rect x="1109" y="578" width="5" height="11" fill="#000"/>
<rect x="1110" y="579" width="3" height="9" fill="#ff0000"/>
<rect x="1119" y="546" width="1" height="12" fill="#000"/>
<rect x="1117" y="549" width="5" height="3" fill="#000"/>
<rect x="1118" y="550" width="3" height="1" fill="#ff0000"/>
<rect x="1127" y="548" width="1" height="45" fill="#000"/>
<rect x="1125" y="549" width="5" height="16" fill="#000"/>
<rect x="1126" y="550" width="3" height="14" fill="#00ff00"/>
<rect x="1135" y="555" width="1" height="18" fill="#000"/>
<rect x="1133" y="560" width="5" height="5" fill="#000"/>
<rect x="1134" y="561" width="3" height="3" fill="#ff0000"/>
<rect x="1143" y="546" width="1" height="17" fill="#000"/>
<rect x="1141" y="547" width="5" height="14" fill="#000"/>
<rect x="1142" y="548" width="3" height="12" fill="#ff0000"/>
<rect x="1151" y="530" width="1" height="28" fill="#000"/>
<rect x="1149" y="535" width="5" height="13" fill="#000"/>
<rect x="1150" y="536" width="3" height="11" fill="#ff0000"/>
<rect x="1159" y="534" width="1" height="9" fill="#000"/>
<rect x="1157" y="535" width="5" height="5" fill="#000"/>
<rect x="1158" y="536" width="3" height="3" fill="#00ff00"/>
<rect x="1167" y="532" width="1" height="12" fill="#000"/>
<rect x="1165" y="537" width="5" height="3" fill="#000"/>
<rect x="1166" y="538" width="3" height="1" fill="#ff0000"/>
<rect x="1175" y="513" width="1" height="30" fill="#000"/>
<rect x="1173" y="520" width="5" height="19" fill="#000"/>
<rect x="1174" y="521" width="3" height="17" fill="#ff0000"/>
<rect x="1183" y="508" width="1" height="27" fill="#000"/>
<rect x="1181" y="511" width="5" height="10" fill="#000"/>
<rect x="1182" y="512" width="3" height="8" fill="#ff0000"/>
<rect x="1191" y="505" width="1" height="23" fill="#000"/>
<rect x="1189" y="511" width="5" height="14" fill="#000"/>
<rect x="1190" y="512" width="3" height="12" fill="#00ff00"/>
<rect x="1199" y="474" width="1" height="55" fill="#000"/>
<rect x="1197" y="494" width="5" height="32" fill="#000"/>
<rect x="1198" y="495" width="3" height="30" fill="#ff0000"/>
<rect x="1207" y="471" width="1" height="27" fill="#000"/>
<rect x="1205" y="486" width="5" height="9" fill="#000"/>
<rect x="1206" y="487" width="3" height="7" fill="#ff0000"/>
<rect x="1215" y="484" width="1" height="12" fill="#000"/>
<rect x="1213" y="486" width="5" height="5" fill="#000"/>
<rect x="1214" y="487" width="3" height="3" fill="#00ff00"/>
<rect x="1223" y="489" width="1" height="38" fill="#000"/>
<rect x="1221" y="490" width="5" height="33" fill="#000"/>
<rect x="1222" y="491" width="3" height="31" fill="#00ff00"/>
<rect x="1231" y="516" width="1" height="43" fill="#000"/>
<rect x="1229" y="522" width="5" height="34" fill="#000"/>
<rect x="1230" y="523" width="3" height="32" fill="#00ff00"/>
<rect x="1239" y="530" width="1" height="32" fill="#000"/>
<rect x="1237" y="539" width="5" height="17" fill="#000"/>
<rect x="1238" y="540" width="3" height="15" fill="#ff0000"/>
<rect x="1247" y="457" width="1" height="94" fill="#000"/>
<rect x="1245" y="490" width="5" height="50" fill="#000"/>
<rect x="1246" y="491" width="3" height="48" fill="#ff0000"/>
<rect x="1255" y="450" width="1" height="47" fill="#000"/>
<rect x="1253" y="490" width="5" height="5" fill="#000"/>
<rect x="1254" y="491" width="3" height="3" fill="#ff0000"/>
<rect x="1263" y="488" width="1" height="8" fill="#00ff00"/>
<rect x="1261" y="494" width="5" height="1" fill="#00ff00"/>
<rect x="1271" y="494" width="1" height="1" fill="#00ff00"/>
<rect x="1269" y="494" width="5" height="1" fill="#00ff00"/>
<path d="M1135,435h2v1h-2zM130,424h2v1h-2zM1047,424h4v1h-4zM1054,424h3v1h-3zM1064,421h9v1h-9zM1087,421h7v1h-7zM8,162h5v1h-5zM208,280h9v1h-9zM233,280h10v1h-10zM364,280h2v1h-2zM279,320h6v1h-6zM321,304h2v1h-2zM1243,480h2v1h-2zM259,323h5v1h-5zM747,78h2v1h-2zM83,128h2v1h-2zM129,128h3v1h-3zM485,128h2v1h-2zM638,128h12v1h-12zM758,128h5v1h-5zM840,151h2v1h-2zM1208,603h3v1h-3zM216,384h6v1h-6zM206,279h2v1h-2zM217,279h16v1h-16zM243,279h5v1h-5zM1109,615h2v1h-2zM127,275h2v1h-2zM257,275h3v1h-3zM1054,489h2v1h-2zM846,154h2v1h-2zM66,138h2v1h-2zM111,267h2v1h-2zM207,385h9v1h-9zM129,276h3v1h-3zM200,276h2v1h-2zM254,276h3v1h-3zM370,276h2v1h-2zM120,272h2v1h-2zM268,272h8v1h-8zM1189,551h4v1h-4zM289,268h5v1h-5zM197,330h2v1h-2zM229,330h8v1h-8zM1215,483h4v1h-4zM1228,483h12v1h-12zM38,294h11v1h-11zM537,49h2v1h-2zM559,49h3v1h-3zM187,325h2v1h-2zM252,325h3v1h-3zM21,160h28v1h-28zM770,89h4v1h-4zM252,375h3v1h-3zM382,375h4v1h-4zM393,375h19v1h-19zM1137,436h3v1h-3zM854,158h2v1h-2zM1064,496h2v1h-2zM531,107h6v1h-6zM1078,505h2v1h-2zM1132,625h3v1h-3zM1166,625h3v1h-3zM2,166h2v1h-2zM167,437h2v1h-2zM1140,437h2v1h-2zM758,170h4v1h-4zM814,170h2v1h-2zM803,92h13v1h-13zM531,47h2v1h-2zM542,47h15v1h-15zM1124,622h3v1h-3zM1173,622h2v1h-2zM92,124h8v1h-8zM111,124h9v1h-9zM622,124h4v1h-4zM728,124h5v1h-5zM738,124h5v1h-5zM523,108h8v1h-8zM537,108h4v1h-4zM754,171h4v1h-4zM791,167h19v1h-19zM351,287h2v1h-2zM30,231h2v1h-2zM54,231h2v1h-2zM315,349h7v1h-7zM26,234h2v1h-2zM513,111h2v1h-2zM549,111h3v1h-3zM544,172h2v1h-2zM751,172h3v1h-3zM564,181h3v1h-3zM587,181h18v1h-18zM617,181h3v1h-3zM690,181h4v1h-4zM116,270h2v1h-2zM282,270h3v1h-3zM300,270h8v1h-8zM37,228h3v1h-3zM46,228h5v1h-5zM337,295h2v1h-2zM507,114h2v1h-2zM558,114h3v1h-3zM1142,628h16v1h-16zM355,285h2v1h-2zM535,50h2v1h-2zM562,50h3v1h-3zM575,59h4v1h-4zM854,59h2v1h-2zM275,369h13v1h-13zM350,369h3v1h-3zM783,168h8v1h-8zM810,168h2v1h-2zM127,422h2v1h-2zM1061,422h3v1h-3zM1094,422h2v1h-2zM590,122h20v1h-20zM539,48h3v1h-3zM557,48h2v1h-2zM523,179h2v1h-2zM557,179h3v1h-3zM698,179h4v1h-4zM706,179h5v1h-5zM718,179h8v1h-8zM1093,514h2v1h-2zM627,68h8v1h-8zM649,68h28v1h-28zM732,68h2v1h-2zM835,68h2v1h-2zM643,188h37v1h-37zM66,239h2v1h-2zM126,127h3v1h-3zM634,127h4v1h-4zM650,127h40v1h-40zM753,127h5v1h-5zM101,261h2v1h-2zM86,126h2v1h-2zM123,126h3v1h-3zM630,126h4v1h-4zM690,126h33v1h-33zM748,126h5v1h-5zM495,121h2v1h-2zM579,121h11v1h-11zM1254,473h2v1h-2zM1026,466h2v1h-2zM603,64h5v1h-5zM843,64h2v1h-2zM155,298h2v1h-2zM332,298h2v1h-2zM119,416h2v1h-2zM100,123h11v1h-11zM492,123h2v1h-2zM610,123h12v1h-12zM733,123h5v1h-5zM233,381h4v1h-4zM341,364h2v1h-2zM687,73h26v1h-26zM1087,597h2v1h-2zM1196,597h2v1h-2zM1223,597h2v1h-2zM1132,529h4v1h-4zM1256,529h2v1h-2zM285,319h5v1h-5zM850,156h2v1h-2zM249,376h3v1h-3zM386,376h7v1h-7zM222,383h5v1h-5zM598,63h5v1h-5zM845,63h3v1h-3zM88,125h4v1h-4zM120,125h3v1h-3zM489,125h2v1h-2zM626,125h4v1h-4zM723,125h5v1h-5zM743,125h5v1h-5zM1241,591h8v1h-8zM1045,423h2v1h-2zM1057,423h4v1h-4zM629,185h4v1h-4zM683,185h2v1h-2zM292,317h2v1h-2zM1051,487h2v1h-2zM18,241h2v1h-2zM69,241h2v1h-2zM1073,420h14v1h-14zM68,137h2v1h-2zM195,329h2v1h-2zM237,329h5v1h-5zM151,445h3v1h-3zM762,87h4v1h-4zM1175,544h2v1h-2zM1210,544h2v1h-2zM1167,540h2v1h-2zM1223,540h6v1h-6zM199,331h4v1h-4zM222,331h7v1h-7zM114,269h2v1h-2zM285,269h4v1h-4zM294,269h6v1h-6zM308,269h6v1h-6zM832,146h2v1h-2zM965,609h2v1h-2zM969,609h2v1h-2zM982,609h2v1h-2zM987,609h4v1h-4zM1091,599h2v1h-2zM1200,599h2v1h-2zM1219,599h2v1h-2zM1037,537h2v1h-2zM1159,537h3v1h-3zM1241,537h2v1h-2zM1219,482h9v1h-9zM1240,482h2v1h-2zM1142,438h3v1h-3zM1116,430h4v1h-4zM262,372h3v1h-3zM359,372h3v1h-3zM417,372h3v1h-3zM766,88h4v1h-4zM842,152h2v1h-2zM72,135h2v1h-2zM259,373h3v1h-3zM362,373h16v1h-16zM414,373h3v1h-3zM1089,598h2v1h-2zM1198,598h2v1h-2zM1221,598h2v1h-2zM1081,594h2v1h-2zM1229,594h4v1h-4zM1120,620h2v1h-2zM1213,484h2v1h-2zM959,606h2v1h-2zM975,606h2v1h-2zM32,230h3v1h-3zM13,161h8v1h-8zM511,32h2v1h-2zM181,321h2v1h-2zM272,321h7v1h-7zM189,326h2v1h-2zM249,326h3v1h-3zM303,312h2v1h-2zM122,273h3v1h-3zM262,273h6v1h-6zM311,348h4v1h-4zM1147,440h2v1h-2zM1206,602h2v1h-2zM1211,602h3v1h-3zM1169,541h2v1h-2zM1219,541h4v1h-4zM106,264h2v1h-2zM565,51h2v1h-2zM349,288h2v1h-2zM327,301h2v1h-2zM1117,619h3v1h-3zM307,351h2v1h-2zM1016,460h2v1h-2zM546,173h2v1h-2zM747,173h4v1h-4zM57,233h2v1h-2zM1129,624h3v1h-3zM1169,624h2v1h-2zM567,182h20v1h-20zM620,182h3v1h-3zM688,182h2v1h-2zM1084,509h2v1h-2zM555,178h2v1h-2zM702,178h4v1h-4zM726,178h6v1h-6zM1122,621h2v1h-2zM345,290h2v1h-2zM498,119h2v1h-2zM573,119h3v1h-3zM560,180h4v1h-4zM605,180h12v1h-12zM694,180h4v1h-4zM711,180h7v1h-7zM551,176h2v1h-2zM736,176h4v1h-4zM265,371h4v1h-4zM356,371h3v1h-3zM420,371h2v1h-2zM1120,525h3v1h-3zM1265,525h2v1h-2zM6,163h2v1h-2zM78,247h2v1h-2zM344,366h2v1h-2zM635,69h14v1h-14zM677,69h2v1h-2zM729,69h3v1h-3zM734,69h2v1h-2zM340,293h2v1h-2zM501,117h2v1h-2zM567,117h3v1h-3zM1129,528h3v1h-3zM1258,528h2v1h-2zM255,374h4v1h-4zM378,374h4v1h-4zM412,374h2v1h-2zM638,187h5v1h-5zM680,187h2v1h-2zM89,254h2v1h-2zM80,130h2v1h-2zM135,130h2v1h-2zM775,130h33v1h-33zM742,74h2v1h-2zM553,177h2v1h-2zM732,177h4v1h-4zM137,131h2v1h-2zM808,131h6v1h-6zM613,66h6v1h-6zM839,66h2v1h-2zM1034,471h2v1h-2zM1259,471h13v1h-13zM1039,538h2v1h-2zM1162,538h2v1h-2zM1237,538h4v1h-4zM200,386h7v1h-7zM74,134h2v1h-2zM143,134h2v1h-2zM269,370h6v1h-6zM288,370h8v1h-8zM353,370h3v1h-3zM422,370h2v1h-2zM1033,535h2v1h-2zM1154,535h3v1h-3zM1245,535h2v1h-2zM1252,474h2v1h-2zM309,309h3v1h-3zM346,367h2v1h-2zM208,333h6v1h-6zM1140,531h4v1h-4zM316,306h2v1h-2zM1058,492h2v1h-2zM785,91h18v1h-18zM844,153h2v1h-2zM35,229h2v1h-2zM51,229h2v1h-2zM1173,543h2v1h-2zM1212,543h3v1h-3zM1164,539h3v1h-3zM1229,539h8v1h-8zM760,86h2v1h-2zM1183,548h2v1h-2zM1202,548h2v1h-2zM852,157h2v1h-2zM1067,498h2v1h-2zM1135,626h4v1h-4zM1162,626h4v1h-4zM1076,504h2v1h-2zM509,113h2v1h-2zM555,113h3v1h-3zM549,175h2v1h-2zM740,175h4v1h-4zM335,296h2v1h-2zM75,245h2v1h-2zM145,441h2v1h-2zM162,441h2v1h-2zM1112,522h3v1h-3zM77,132h2v1h-2zM139,132h2v1h-2zM480,132h2v1h-2zM814,132h3v1h-3zM134,427h2v1h-2zM1103,427h4v1h-4zM34,297h2v1h-2zM1104,519h3v1h-3zM132,129h3v1h-3zM763,129h12v1h-12zM1089,512h2v1h-2zM60,235h2v1h-2zM744,174h3v1h-3zM1120,431h4v1h-4zM1115,523h3v1h-3zM1270,523h2v1h-2zM312,308h2v1h-2zM1097,516h3v1h-3zM81,249h2v1h-2zM762,169h21v1h-21zM812,169h2v1h-2zM1014,459h2v1h-2zM592,62h6v1h-6zM848,62h2v1h-2zM1083,595h2v1h-2zM1191,595h3v1h-3zM1227,595h2v1h-2zM297,315h2v1h-2zM1126,527h3v1h-3zM1260,527h2v1h-2zM1202,600h2v1h-2zM1216,600h3v1h-3zM141,133h2v1h-2zM185,324h2v1h-2zM255,324h4v1h-4zM91,255h2v1h-2zM963,608h2v1h-2zM971,608h2v1h-2zM979,608h3v1h-3zM991,608h3v1h-3zM1171,542h2v1h-2zM1215,542h4v1h-4zM1185,549h2v1h-2zM1198,549h4v1h-4zM1187,550h2v1h-2zM1193,550h5v1h-5zM1035,536h2v1h-2zM1157,536h2v1h-2zM1243,536h2v1h-2zM243,378h3v1h-3zM240,379h3v1h-3zM1070,500h2v1h-2zM1179,546h2v1h-2zM1206,546h2v1h-2zM829,144h2v1h-2zM967,610h2v1h-2zM984,610h3v1h-3zM517,109h6v1h-6zM541,109h4v1h-4zM1051,425h3v1h-3zM1098,425h2v1h-2zM1107,614h2v1h-2zM173,314h2v1h-2zM299,314h2v1h-2zM125,274h2v1h-2zM260,274h2v1h-2zM373,274h2v1h-2zM357,284h2v1h-2zM158,443h3v1h-3zM1151,443h2v1h-2zM191,327h2v1h-2zM245,327h4v1h-4zM322,350h4v1h-4zM1091,513h2v1h-2zM1019,462h2v1h-2zM1127,623h2v1h-2zM1171,623h2v1h-2zM1100,517h2v1h-2zM633,186h5v1h-5zM318,305h3v1h-3zM1139,627h3v1h-3zM1158,627h4v1h-4zM679,70h3v1h-3zM725,70h4v1h-4zM736,70h2v1h-2zM832,70h2v1h-2zM1164,453h2v1h-2zM1136,530h4v1h-4zM1254,530h2v1h-2zM1102,518h2v1h-2zM86,252h2v1h-2zM338,362h2v1h-2zM685,72h2v1h-2zM713,72h9v1h-9zM305,311h2v1h-2zM227,382h6v1h-6zM504,28h2v1h-2zM1248,477h2v1h-2zM290,318h2v1h-2zM516,35h2v1h-2zM203,332h5v1h-5zM214,332h8v1h-8zM1061,494h2v1h-2zM353,286h2v1h-2zM774,90h11v1h-11zM109,266h2v1h-2zM316,266h2v1h-2zM505,115h2v1h-2zM561,115h3v1h-3zM72,243h2v1h-2zM511,112h2v1h-2zM552,112h3v1h-3zM1167,455h2v1h-2zM123,419h2v1h-2zM347,289h2v1h-2zM619,67h8v1h-8zM837,67h2v1h-2zM570,118h3v1h-3zM1028,467h2v1h-2zM96,258h2v1h-2zM28,302h2v1h-2zM325,302h2v1h-2zM98,259h2v1h-2zM1085,596h2v1h-2zM1194,596h2v1h-2zM1225,596h2v1h-2zM1249,590h7v1h-7zM1112,429h4v1h-4zM93,256h2v1h-2zM1036,472h2v1h-2zM1256,472h3v1h-3zM626,184h3v1h-3zM84,251h2v1h-2zM1177,545h2v1h-2zM1208,545h2v1h-2zM132,277h2v1h-2zM202,277h2v1h-2zM252,277h2v1h-2zM826,142h2v1h-2zM1181,547h2v1h-2zM1204,547h2v1h-2zM1115,618h2v1h-2zM40,227h6v1h-6zM513,33h2v1h-2zM1157,448h2v1h-2zM134,278h2v1h-2zM204,278h2v1h-2zM248,278h4v1h-4zM367,278h2v1h-2zM1194,506h2v1h-2zM1081,507h2v1h-2zM336,361h2v1h-2zM1107,520h2v1h-2zM63,237h2v1h-2zM165,307h2v1h-2zM314,307h2v1h-2zM343,291h2v1h-2zM1123,526h3v1h-3zM1262,526h3v1h-3zM329,300h2v1h-2zM103,262h2v1h-2zM1148,533h4v1h-4zM1249,533h2v1h-2zM1211,485h2v1h-2zM682,71h3v1h-3zM722,71h3v1h-3zM738,71h2v1h-2zM756,84h2v1h-2zM961,607h2v1h-2zM973,607h2v1h-2zM977,607h2v1h-2zM294,316h3v1h-3zM1107,428h5v1h-5zM753,82h2v1h-2zM1132,434h3v1h-3zM1100,426h3v1h-3zM118,271h2v1h-2zM276,271h6v1h-6zM1113,617h2v1h-2zM1161,451h2v1h-2zM576,120h3v1h-3zM515,110h2v1h-2zM545,110h4v1h-4zM301,313h2v1h-2zM1086,510h2v1h-2zM323,303h2v1h-2zM1245,479h2v1h-2zM1144,532h4v1h-4zM1251,532h2v1h-2zM348,368h2v1h-2zM1237,592h4v1h-4zM149,444h2v1h-2zM154,444h4v1h-4zM264,322h8v1h-8zM70,136h2v1h-2zM475,136h2v1h-2zM1031,534h2v1h-2zM1152,534h2v1h-2zM1247,534h2v1h-2zM506,29h2v1h-2zM1128,433h4v1h-4zM848,155h2v1h-2zM1073,502h2v1h-2zM518,36h2v1h-2zM193,328h2v1h-2zM242,328h3v1h-3zM1095,515h2v1h-2zM608,65h5v1h-5zM841,65h2v1h-2zM64,139h2v1h-2zM1109,521h3v1h-3zM623,183h3v1h-3zM686,183h2v1h-2zM1259,586h2v1h-2zM835,148h2v1h-2zM1204,601h2v1h-2zM1214,601h2v1h-2zM523,40h2v1h-2zM359,283h2v1h-2zM838,150h2v1h-2zM246,377h3v1h-3zM585,61h7v1h-7zM850,61h2v1h-2zM1118,524h2v1h-2zM1267,524h3v1h-3zM237,380h3v1h-3zM751,81h2v1h-2zM826,75h2v1h-2zM1111,616h2v1h-2zM1105,613h2v1h-2zM509,31h2v1h-2zM1191,508h2v1h-2zM1124,432h4v1h-4zM567,52h2v1h-2zM503,116h2v1h-2zM564,116h3v1h-3zM1233,593h4v1h-4zM1145,439h2v1h-2zM1031,469h2v1h-2zM758,85h2v1h-2zM361,282h2v1h-2zM579,60h6v1h-6zM852,60h2v1h-2zM307,310h2v1h-2zM1023,464h2v1h-2zM1021,463h2v1h-2zM111,409h2v1h-2zM1207,488h2v1h-2zM140,283h1v1h-1zM140,434h1v2h-1zM170,183h1v3h-1zM170,311h1v1h-1zM170,435h1v1h-1zM896,230h1v2h-1zM896,435h1v4h-1zM997,266h1v3h-1zM997,435h1v2h-1zM997,600h1v2h-1zM179,211h1v2h-1zM179,319h1v1h-1zM179,424h1v1h-1zM893,224h1v2h-1zM893,424h1v4h-1zM989,238h1v3h-1zM989,424h1v1h-1zM1097,424h1v1h-1zM1097,604h1v1h-1zM126,421h1v1h-1zM181,216h1v3h-1zM181,421h1v2h-1zM892,222h1v2h-1zM892,420h1v4h-1zM987,231h1v3h-1zM987,421h1v1h-1zM1043,420h1v2h-1zM1043,478h1v1h-1zM1043,541h1v2h-1zM162,162h1v3h-1zM162,304h1v1h-1zM379,160h1v3h-1zM379,268h1v1h-1zM453,162h1v1h-1zM453,314h1v2h-1zM858,52h1v2h-1zM858,162h1v1h-1zM858,270h1v4h-1zM969,158h1v6h-1zM969,385h1v2h-1zM427,24h1v1h-1zM427,30h1v2h-1zM427,198h1v2h-1zM427,365h1v1h-1zM508,30h1v1h-1zM508,203h1v1h-1zM869,30h1v2h-1zM869,176h1v2h-1zM869,323h1v5h-1zM925,29h1v2h-1zM925,289h1v3h-1zM925,549h1v3h-1zM420,42h1v2h-1zM420,210h1v1h-1zM527,43h1v1h-1zM527,175h1v2h-1zM863,42h1v2h-1zM863,168h1v2h-1zM863,293h1v5h-1zM932,43h1v2h-1zM932,305h1v2h-1zM932,565h1v2h-1zM137,280h1v1h-1zM137,429h1v2h-1zM468,144h1v1h-1zM468,279h1v3h-1zM860,48h1v2h-1zM860,164h1v2h-1zM860,278h1v5h-1zM921,21h1v2h-1zM921,280h1v2h-1zM921,534h1v4h-1zM1001,278h1v5h-1zM1001,441h1v2h-1zM1001,593h1v2h-1zM18,319h1v3h-1zM59,145h1v2h-1zM59,234h1v1h-1zM59,318h1v3h-1zM180,213h1v3h-1zM180,320h1v1h-1zM180,423h1v1h-1zM450,166h1v1h-1zM450,320h1v2h-1zM868,32h1v2h-1zM868,175h1v1h-1zM868,318h1v5h-1zM939,59h1v3h-1zM939,320h1v2h-1zM939,579h1v2h-1zM1008,316h1v6h-1zM1008,451h1v1h-1zM1008,579h1v2h-1zM26,304h1v1h-1zM52,155h1v1h-1zM52,303h1v2h-1zM458,155h1v1h-1zM458,302h1v3h-1zM865,38h1v2h-1zM865,171h1v1h-1zM865,303h1v5h-1zM931,41h1v2h-1zM931,303h1v2h-1zM931,563h1v2h-1zM1005,299h1v6h-1zM1005,447h1v1h-1zM1005,585h1v2h-1zM909,254h1v2h-1zM909,490h1v6h-1zM1056,490h1v1h-1zM1056,559h1v1h-1zM1184,490h1v3h-1zM1184,608h1v2h-1zM1205,490h1v1h-1zM907,250h1v2h-1zM907,479h1v6h-1zM1044,422h1v1h-1zM1044,479h1v2h-1zM1044,543h1v1h-1zM1180,480h1v2h-1zM1180,614h1v1h-1zM17,242h1v1h-1zM17,322h1v2h-1zM61,143h1v1h-1zM61,323h1v2h-1zM184,225h1v4h-1zM184,323h1v1h-1zM184,415h1v2h-1zM449,167h1v1h-1zM449,322h1v2h-1zM940,62h1v2h-1zM940,322h1v2h-1zM940,581h1v1h-1zM1009,322h1v7h-1zM1009,452h1v2h-1zM1009,575h1v4h-1zM406,78h1v3h-1zM406,229h1v2h-1zM823,78h1v1h-1zM823,139h1v1h-1zM823,197h1v4h-1zM946,77h1v3h-1zM946,334h1v2h-1zM946,590h1v1h-1zM390,126h1v3h-1zM390,253h1v1h-1zM961,125h1v4h-1zM961,366h1v3h-1zM55,151h1v1h-1zM55,310h1v2h-1zM156,151h1v1h-1zM383,151h1v3h-1zM383,262h1v2h-1zM462,150h1v2h-1zM462,293h1v3h-1zM967,149h1v4h-1zM967,380h1v3h-1zM956,106h1v4h-1zM956,355h1v2h-1zM956,602h1v2h-1zM996,263h1v3h-1zM996,434h1v1h-1zM996,602h1v2h-1zM1096,423h1v1h-1zM1096,603h1v1h-1zM1187,499h1v3h-1zM1187,602h1v2h-1zM92,383h1v2h-1zM882,201h1v2h-1zM882,381h1v4h-1zM968,153h1v5h-1zM968,383h1v2h-1zM1023,384h1v3h-1zM1023,544h1v1h-1zM176,202h1v3h-1zM176,316h1v1h-1zM176,428h1v1h-1zM351,204h1v1h-1zM424,20h1v1h-1zM424,35h1v2h-1zM424,203h1v2h-1zM424,369h1v1h-1zM507,204h1v1h-1zM824,77h1v1h-1zM824,140h1v1h-1zM824,201h1v4h-1zM883,203h1v2h-1zM883,385h1v4h-1zM978,203h1v3h-1zM978,403h1v2h-1zM136,279h1v1h-1zM136,428h1v1h-1zM366,182h1v2h-1zM366,279h1v1h-1zM920,20h1v1h-1zM920,277h1v3h-1zM920,531h1v3h-1zM1179,477h1v3h-1zM1179,615h1v2h-1zM199,274h1v2h-1zM199,387h1v2h-1zM372,174h1v1h-1zM372,275h1v1h-1zM470,141h1v1h-1zM470,274h1v3h-1zM859,50h1v2h-1zM859,163h1v1h-1zM859,274h1v4h-1zM919,275h1v2h-1zM919,527h1v4h-1zM1000,274h1v4h-1zM1000,440h1v1h-1zM1000,595h1v1h-1zM908,252h1v2h-1zM908,485h1v5h-1zM1183,487h1v3h-1zM1183,610h1v1h-1zM1206,489h1v1h-1zM56,149h1v2h-1zM56,232h1v1h-1zM56,312h1v2h-1zM155,149h1v2h-1zM384,147h1v4h-1zM384,261h1v1h-1zM463,149h1v1h-1zM463,291h1v2h-1zM837,149h1v1h-1zM837,230h1v2h-1zM400,96h1v3h-1zM400,238h1v2h-1zM953,96h1v3h-1zM953,348h1v2h-1zM953,599h1v1h-1zM53,153h1v2h-1zM53,230h1v1h-1zM53,305h1v2h-1zM158,154h1v2h-1zM158,300h1v1h-1zM382,154h1v2h-1zM382,264h1v1h-1zM459,154h1v1h-1zM459,300h1v2h-1zM147,138h1v1h-1zM147,290h1v1h-1zM147,442h1v1h-1zM387,136h1v4h-1zM387,257h1v1h-1zM473,138h1v1h-1zM473,267h1v2h-1zM822,79h1v2h-1zM822,138h1v1h-1zM822,193h1v4h-1zM964,137h1v4h-1zM964,373h1v3h-1zM196,265h1v3h-1zM196,392h1v2h-1zM315,267h1v1h-1zM380,158h1v2h-1zM380,266h1v2h-1zM857,54h1v2h-1zM857,160h1v2h-1zM857,266h1v4h-1zM915,266h1v2h-1zM915,514h1v3h-1zM175,199h1v3h-1zM175,315h1v1h-1zM175,429h1v1h-1zM354,199h1v2h-1zM511,198h1v2h-1zM881,199h1v2h-1zM881,377h1v4h-1zM976,197h1v3h-1zM976,399h1v2h-1zM93,385h1v1h-1zM198,271h1v3h-1zM198,389h1v2h-1zM376,167h1v2h-1zM376,272h1v1h-1zM471,140h1v1h-1zM471,272h1v2h-1zM917,270h1v3h-1zM917,520h1v4h-1zM999,271h1v3h-1zM999,438h1v2h-1zM999,596h1v2h-1zM1018,371h1v3h-1zM1018,461h1v1h-1zM1018,551h1v2h-1zM1051,551h1v2h-1zM113,268h1v1h-1zM113,410h1v1h-1zM197,268h1v3h-1zM197,391h1v1h-1zM314,268h1v1h-1zM916,268h1v2h-1zM916,517h1v3h-1zM13,246h1v2h-1zM13,330h1v2h-1zM64,329h1v2h-1zM445,172h1v2h-1zM445,330h1v2h-1zM870,28h1v2h-1zM870,178h1v2h-1zM870,328h1v5h-1zM944,72h1v2h-1zM944,330h1v2h-1zM944,587h1v1h-1zM1010,329h1v7h-1zM1010,454h1v1h-1zM1010,571h1v4h-1zM1047,483h1v1h-1zM1047,546h1v1h-1zM1181,482h1v3h-1zM1181,613h1v1h-1zM151,143h1v1h-1zM151,294h1v1h-1zM339,227h1v2h-1zM339,294h1v1h-1zM927,33h1v2h-1zM927,294h1v2h-1zM927,554h1v2h-1zM1004,294h1v5h-1zM1004,445h1v2h-1zM1004,587h1v2h-1zM417,49h1v2h-1zM417,214h1v1h-1zM534,49h1v1h-1zM534,164h1v2h-1zM935,49h1v3h-1zM935,311h1v3h-1zM935,571h1v2h-1zM16,243h1v1h-1zM16,324h1v2h-1zM62,141h1v2h-1zM62,236h1v1h-1zM62,325h1v2h-1zM448,168h1v2h-1zM448,324h1v2h-1zM941,64h1v3h-1zM941,324h1v2h-1zM941,582h1v2h-1zM108,265h1v1h-1zM108,406h1v1h-1zM189,243h1v4h-1zM189,405h1v2h-1zM888,214h1v2h-1zM888,405h1v4h-1zM979,206h1v3h-1zM979,405h1v2h-1zM1033,406h1v2h-1zM1033,470h1v1h-1zM161,160h1v2h-1zM161,303h1v1h-1zM161,442h1v1h-1zM454,160h1v2h-1zM454,312h1v2h-1zM403,87h1v3h-1zM403,234h1v1h-1zM817,88h1v2h-1zM817,133h1v1h-1zM817,176h1v3h-1zM950,88h1v3h-1zM950,342h1v2h-1zM950,595h1v1h-1zM87,374h1v2h-1zM880,197h1v2h-1zM880,373h1v4h-1zM1019,374h1v2h-1zM1019,549h1v2h-1zM345,213h1v2h-1zM500,23h1v1h-1zM500,118h1v1h-1zM500,214h1v1h-1zM829,73h1v1h-1zM829,214h1v2h-1zM981,212h1v3h-1zM981,409h1v2h-1zM141,284h1v1h-1zM141,436h1v1h-1zM169,180h1v3h-1zM169,310h1v1h-1zM169,436h1v1h-1zM183,222h1v3h-1zM183,322h1v1h-1zM183,417h1v2h-1zM340,224h1v3h-1zM340,363h1v1h-1zM410,66h1v3h-1zM410,224h1v1h-1zM494,122h1v1h-1zM494,223h1v2h-1zM834,69h1v1h-1zM834,147h1v1h-1zM834,224h1v2h-1zM985,224h1v3h-1zM985,417h1v2h-1zM50,157h1v2h-1zM50,298h1v2h-1zM160,158h1v2h-1zM160,302h1v1h-1zM456,158h1v1h-1zM456,307h1v2h-1zM929,37h1v2h-1zM929,298h1v2h-1zM929,558h1v3h-1zM1013,348h1v6h-1zM1013,458h1v1h-1zM1013,560h1v3h-1zM1057,491h1v1h-1zM1057,560h1v2h-1zM910,256h1v2h-1zM910,496h1v4h-1zM1186,496h1v3h-1zM1186,604h1v2h-1zM1202,495h1v2h-1zM397,105h1v3h-1zM397,243h1v1h-1zM912,260h1v2h-1zM912,504h1v3h-1zM1189,504h1v2h-1zM1189,598h1v2h-1zM1196,505h1v1h-1zM163,165h1v2h-1zM163,305h1v1h-1zM377,165h1v2h-1zM377,270h1v2h-1zM533,48h1v1h-1zM533,166h1v1h-1zM538,166h1v1h-1zM861,46h1v2h-1zM861,166h1v1h-1zM861,283h1v5h-1zM970,164h1v6h-1zM970,387h1v2h-1zM142,285h1v1h-1zM142,437h1v2h-1zM998,269h1v2h-1zM998,437h1v1h-1zM998,598h1v2h-1zM165,170h1v2h-1zM165,439h1v1h-1zM375,169h1v2h-1zM375,273h1v1h-1zM447,170h1v1h-1zM447,326h1v2h-1zM531,169h1v2h-1zM542,170h1v1h-1zM864,40h1v2h-1zM864,170h1v1h-1zM864,298h1v5h-1zM971,170h1v5h-1zM971,389h1v2h-1zM402,90h1v3h-1zM402,235h1v2h-1zM951,91h1v2h-1zM951,344h1v2h-1zM951,596h1v2h-1zM898,234h1v2h-1zM898,442h1v3h-1zM1150,442h1v1h-1zM399,99h1v3h-1zM399,240h1v1h-1zM954,99h1v4h-1zM954,350h1v2h-1zM954,600h1v1h-1zM418,46h1v3h-1zM418,213h1v1h-1zM934,47h1v2h-1zM934,309h1v2h-1zM934,569h1v2h-1zM96,389h1v2h-1zM884,205h1v2h-1zM884,389h1v4h-1zM1025,389h1v3h-1zM1025,465h1v1h-1zM1025,542h1v1h-1zM391,123h1v3h-1zM391,251h1v2h-1zM491,124h1v1h-1zM491,228h1v2h-1zM960,121h1v4h-1zM960,364h1v2h-1zM396,108h1v3h-1zM396,244h1v1h-1zM116,413h1v1h-1zM185,229h1v3h-1zM185,413h1v2h-1zM890,218h1v2h-1zM890,413h1v4h-1zM983,218h1v3h-1zM983,413h1v2h-1zM1037,413h1v1h-1zM374,171h1v2h-1zM446,171h1v1h-1zM446,328h1v2h-1zM530,46h1v1h-1zM530,171h1v1h-1zM543,171h1v1h-1zM815,171h1v1h-1zM1,167h1v1h-1zM1,262h1v1h-1zM1,353h1v2h-1zM164,167h1v3h-1zM164,306h1v1h-1zM164,440h1v1h-1zM532,167h1v2h-1zM539,167h1v1h-1zM862,44h1v2h-1zM862,167h1v1h-1zM862,288h1v5h-1zM144,287h1v1h-1zM144,440h1v1h-1zM465,147h1v1h-1zM465,286h1v3h-1zM924,27h1v2h-1zM924,287h1v2h-1zM924,545h1v4h-1zM1002,283h1v6h-1zM1002,443h1v1h-1zM1002,591h1v2h-1zM338,229h1v3h-1zM405,81h1v3h-1zM405,231h1v1h-1zM490,230h1v2h-1zM416,51h1v3h-1zM416,215h1v2h-1zM569,53h1v1h-1zM936,52h1v2h-1zM936,314h1v2h-1zM936,573h1v2h-1zM902,241h1v2h-1zM902,455h1v4h-1zM1012,342h1v6h-1zM1012,456h1v2h-1zM1012,563h1v4h-1zM1169,456h1v1h-1zM1103,611h1v1h-1zM1182,485h1v2h-1zM1182,611h1v2h-1zM3,259h1v1h-1zM3,349h1v2h-1zM74,244h1v1h-1zM74,349h1v2h-1zM310,349h1v1h-1zM437,184h1v2h-1zM437,348h1v2h-1zM874,21h1v2h-1zM874,186h1v1h-1zM874,347h1v4h-1zM186,232h1v4h-1zM186,411h1v2h-1zM336,234h1v3h-1zM488,126h1v1h-1zM488,234h1v2h-1zM839,234h1v2h-1zM988,234h1v4h-1zM988,422h1v2h-1zM395,111h1v3h-1zM395,245h1v2h-1zM957,110h1v4h-1zM957,357h1v2h-1zM957,604h1v1h-1zM166,172h1v3h-1zM166,438h1v1h-1zM529,45h1v1h-1zM529,172h1v2h-1zM816,90h1v2h-1zM816,172h1v4h-1zM866,36h1v2h-1zM866,172h1v2h-1zM866,308h1v5h-1zM367,181h1v1h-1zM439,181h1v2h-1zM439,344h1v2h-1zM521,38h1v1h-1zM521,181h1v1h-1zM818,86h1v2h-1zM818,134h1v1h-1zM818,179h1v3h-1zM871,27h1v1h-1zM871,180h1v2h-1zM871,333h1v5h-1zM973,181h1v6h-1zM973,393h1v2h-1zM421,40h1v2h-1zM421,208h1v2h-1zM525,41h1v1h-1zM525,178h1v1h-1zM472,139h1v1h-1zM472,269h1v3h-1zM407,75h1v3h-1zM407,228h1v1h-1zM836,228h1v2h-1zM895,228h1v2h-1zM895,432h1v3h-1zM986,227h1v4h-1zM986,419h1v2h-1zM22,238h1v1h-1zM22,311h1v2h-1zM65,238h1v1h-1zM65,331h1v2h-1zM187,236h1v4h-1zM187,409h1v2h-1zM335,237h1v2h-1zM335,360h1v1h-1zM486,238h1v2h-1zM841,237h1v2h-1zM900,237h1v2h-1zM900,449h1v3h-1zM37,295h1v1h-1zM48,295h1v1h-1zM152,144h1v2h-1zM152,295h1v1h-1zM15,244h1v1h-1zM15,326h1v2h-1zM332,244h1v3h-1zM332,357h1v1h-1zM483,130h1v1h-1zM483,244h1v2h-1zM844,243h1v2h-1zM903,243h1v2h-1zM903,459h1v4h-1zM990,241h1v4h-1zM990,425h1v2h-1zM394,114h1v3h-1zM394,247h1v1h-1zM958,114h1v3h-1zM958,359h1v3h-1zM958,605h1v1h-1zM1069,499h1v1h-1zM1069,578h1v2h-1zM1267,579h1v1h-1zM105,263h1v1h-1zM105,403h1v1h-1zM190,247h1v3h-1zM190,403h1v2h-1zM887,211h1v3h-1zM887,401h1v4h-1zM1031,402h1v2h-1zM911,258h1v2h-1zM911,500h1v4h-1zM1075,503h1v1h-1zM1075,586h1v2h-1zM1188,502h1v2h-1zM1188,600h1v2h-1zM1198,503h1v1h-1zM466,146h1v1h-1zM466,284h1v2h-1zM923,25h1v2h-1zM923,285h1v2h-1zM923,542h1v3h-1zM413,59h1v2h-1zM413,220h1v1h-1zM84,369h1v2h-1zM296,368h1v2h-1zM879,195h1v2h-1zM879,369h1v4h-1zM962,129h1v4h-1zM962,369h1v2h-1zM1017,369h1v2h-1zM1017,553h1v2h-1zM0,168h1v1h-1zM0,263h1v1h-1zM0,355h1v1h-1zM540,168h1v1h-1zM29,232h1v1h-1zM337,232h1v2h-1zM404,84h1v3h-1zM404,232h1v2h-1zM489,232h1v2h-1zM838,232h1v2h-1zM897,232h1v2h-1zM897,439h1v3h-1zM409,69h1v3h-1zM409,225h1v2h-1zM493,225h1v2h-1zM392,120h1v3h-1zM392,250h1v1h-1zM168,177h1v3h-1zM168,309h1v1h-1zM369,178h1v2h-1zM369,277h1v1h-1zM441,178h1v2h-1zM441,339h1v2h-1zM972,175h1v6h-1zM972,391h1v2h-1zM904,245h1v2h-1zM904,463h1v6h-1zM1030,400h1v2h-1zM1030,468h1v1h-1zM1030,535h1v1h-1zM1175,467h1v3h-1zM1175,621h1v1h-1zM942,67h1v2h-1zM942,326h1v2h-1zM942,584h1v1h-1zM171,186h1v3h-1zM171,312h1v1h-1zM171,434h1v1h-1zM362,188h1v1h-1zM435,188h1v1h-1zM435,353h1v2h-1zM517,187h1v2h-1zM820,83h1v2h-1zM820,136h1v1h-1zM820,186h1v3h-1zM875,20h1v1h-1zM875,187h1v2h-1zM875,351h1v5h-1zM974,187h1v6h-1zM974,395h1v2h-1zM21,239h1v1h-1zM21,313h1v2h-1zM334,239h1v3h-1zM334,297h1v1h-1zM334,359h1v1h-1zM842,239h1v2h-1zM901,239h1v2h-1zM901,452h1v3h-1zM9,251h1v2h-1zM9,338h1v2h-1zM68,240h1v1h-1zM68,337h1v2h-1zM442,176h1v2h-1zM442,337h1v2h-1zM872,25h1v2h-1zM872,182h1v2h-1zM872,338h1v5h-1zM948,82h1v3h-1zM948,338h1v2h-1zM948,593h1v1h-1zM1011,336h1v6h-1zM1011,455h1v1h-1zM1011,567h1v4h-1zM1258,587h1v1h-1zM1065,572h1v2h-1zM85,127h1v1h-1zM85,371h1v2h-1zM487,127h1v1h-1zM487,236h1v2h-1zM2,260h1v2h-1zM2,351h1v2h-1zM194,259h1v3h-1zM194,396h1v2h-1zM322,260h1v2h-1zM476,259h1v3h-1zM855,58h1v1h-1zM855,261h1v2h-1zM995,259h1v4h-1zM995,432h1v2h-1zM995,604h1v2h-1zM172,189h1v4h-1zM172,313h1v1h-1zM172,433h1v1h-1zM361,189h1v2h-1zM433,190h1v2h-1zM433,357h1v2h-1zM516,189h1v2h-1zM821,81h1v2h-1zM821,137h1v1h-1zM821,189h1v4h-1zM876,189h1v2h-1zM876,356h1v4h-1zM905,247h1v1h-1zM905,469h1v5h-1zM1038,414h1v2h-1zM1038,473h1v1h-1zM1177,472h1v3h-1zM1177,618h1v1h-1zM1174,465h1v2h-1zM411,64h1v2h-1zM411,222h1v2h-1zM33,298h1v1h-1zM460,153h1v1h-1zM460,298h1v2h-1zM984,221h1v3h-1zM984,415h1v2h-1zM1039,416h1v1h-1zM1039,474h1v1h-1zM91,381h1v2h-1zM1021,379h1v3h-1zM1021,547h1v1h-1zM81,363h1v2h-1zM298,364h1v2h-1zM428,25h1v2h-1zM428,28h1v2h-1zM428,197h1v1h-1zM428,364h1v1h-1zM877,191h1v2h-1zM877,360h1v5h-1zM1015,359h1v6h-1zM1015,556h1v2h-1zM32,299h1v1h-1zM157,152h1v2h-1zM157,299h1v1h-1zM331,247h1v2h-1zM331,299h1v1h-1zM331,356h1v1h-1zM945,74h1v3h-1zM945,332h1v2h-1zM945,588h1v2h-1zM1076,588h1v1h-1zM1257,588h1v1h-1zM149,140h1v2h-1zM149,292h1v1h-1zM386,140h1v4h-1zM386,258h1v2h-1zM825,76h1v1h-1zM825,141h1v1h-1zM825,205h1v3h-1zM965,141h1v4h-1zM965,376h1v2h-1zM408,72h1v3h-1zM408,227h1v1h-1zM741,73h1v1h-1zM1190,506h1v2h-1zM1190,596h1v2h-1zM6,255h1v2h-1zM6,344h1v2h-1zM72,345h1v2h-1zM873,23h1v2h-1zM873,184h1v2h-1zM873,343h1v4h-1zM173,193h1v3h-1zM173,431h1v2h-1zM358,194h1v1h-1zM430,194h1v2h-1zM430,362h1v1h-1zM513,194h1v2h-1zM878,193h1v2h-1zM878,365h1v4h-1zM975,193h1v4h-1zM975,397h1v2h-1zM451,164h1v2h-1zM451,318h1v2h-1zM938,57h1v2h-1zM938,318h1v2h-1zM938,577h1v2h-1zM51,156h1v1h-1zM51,300h1v3h-1zM159,156h1v2h-1zM159,301h1v1h-1zM381,156h1v2h-1zM381,265h1v1h-1zM457,156h1v2h-1zM457,305h1v2h-1zM88,253h1v1h-1zM88,376h1v2h-1zM1020,376h1v3h-1zM1020,548h1v1h-1zM1022,382h1v2h-1zM1022,545h1v2h-1zM412,61h1v3h-1zM412,221h1v1h-1zM947,80h1v2h-1zM947,336h1v2h-1zM947,591h1v2h-1zM1078,590h1v2h-1zM129,423h1v1h-1zM364,185h1v2h-1zM518,185h1v2h-1zM819,85h1v1h-1zM819,135h1v1h-1zM819,182h1v4h-1zM19,317h1v2h-1zM58,147h1v1h-1zM58,316h1v2h-1zM177,205h1v3h-1zM177,317h1v1h-1zM177,427h1v1h-1zM452,163h1v1h-1zM452,316h1v2h-1zM867,34h1v2h-1zM867,174h1v1h-1zM867,313h1v5h-1zM937,54h1v3h-1zM937,316h1v2h-1zM937,575h1v2h-1zM1209,487h1v1h-1zM188,240h1v3h-1zM188,407h1v2h-1zM398,102h1v3h-1zM398,241h1v2h-1zM485,240h1v2h-1zM843,241h1v2h-1zM125,420h1v1h-1zM182,219h1v3h-1zM182,419h1v2h-1zM146,136h1v2h-1zM146,289h1v1h-1zM474,137h1v1h-1zM474,264h1v3h-1zM8,253h1v1h-1zM8,340h1v2h-1zM192,253h1v3h-1zM192,399h1v2h-1zM328,252h1v2h-1zM328,353h1v1h-1zM479,133h1v1h-1zM479,252h1v2h-1zM852,253h1v2h-1zM993,252h1v4h-1zM993,429h1v2h-1zM426,23h1v1h-1zM426,32h1v1h-1zM426,200h1v2h-1zM426,366h1v2h-1zM510,200h1v1h-1zM977,200h1v3h-1zM977,401h1v2h-1zM14,245h1v1h-1zM14,328h1v2h-1zM943,69h1v3h-1zM943,328h1v2h-1zM943,585h1v2h-1zM899,236h1v1h-1zM899,445h1v4h-1zM1154,445h1v1h-1zM77,246h1v1h-1zM77,355h1v2h-1zM302,356h1v2h-1zM434,189h1v1h-1zM434,355h1v2h-1zM1014,354h1v5h-1zM1014,558h1v2h-1zM357,195h1v1h-1zM178,208h1v3h-1zM178,318h1v1h-1zM178,425h1v2h-1zM347,210h1v1h-1zM503,27h1v1h-1zM503,210h1v1h-1zM827,210h1v2h-1zM886,209h1v2h-1zM886,397h1v4h-1zM980,209h1v3h-1zM980,407h1v2h-1zM949,85h1v3h-1zM949,340h1v2h-1zM949,594h1v1h-1zM1045,481h1v1h-1zM1045,544h1v1h-1zM922,23h1v2h-1zM922,282h1v3h-1zM922,538h1v4h-1zM1026,392h1v2h-1zM1026,540h1v2h-1zM1042,419h1v1h-1zM1042,477h1v1h-1zM1042,540h1v1h-1zM378,163h1v2h-1zM378,269h1v1h-1zM153,146h1v1h-1zM153,296h1v1h-1zM385,144h1v3h-1zM385,260h1v1h-1zM966,145h1v4h-1zM966,378h1v2h-1zM1101,609h1v1h-1zM1029,398h1v2h-1zM1029,536h1v2h-1zM1046,482h1v1h-1zM1046,545h1v1h-1zM11,249h1v1h-1zM11,334h1v2h-1zM66,333h1v2h-1zM443,175h1v1h-1zM443,334h1v3h-1zM352,202h1v2h-1zM425,21h1v2h-1zM425,33h1v2h-1zM425,202h1v1h-1zM425,368h1v1h-1zM509,201h1v2h-1zM174,196h1v3h-1zM174,430h1v1h-1zM894,226h1v2h-1zM894,428h1v4h-1zM963,133h1v4h-1zM963,371h1v2h-1zM54,152h1v1h-1zM54,307h1v3h-1zM461,152h1v1h-1zM461,296h1v2h-1zM145,135h1v1h-1zM145,288h1v1h-1zM388,133h1v3h-1zM388,256h1v1h-1zM477,135h1v1h-1zM477,257h1v2h-1zM86,373h1v1h-1zM1063,495h1v1h-1zM1063,569h1v2h-1zM1185,493h1v3h-1zM1185,606h1v2h-1zM94,386h1v2h-1zM1024,387h1v2h-1zM1024,543h1v1h-1zM952,93h1v3h-1zM952,346h1v2h-1zM952,598h1v1h-1zM1191,509h1v1h-1zM1191,594h1v1h-1zM1176,470h1v2h-1zM1176,619h1v2h-1zM1048,484h1v1h-1zM1048,547h1v2h-1zM348,208h1v2h-1zM504,208h1v2h-1zM826,208h1v2h-1zM885,207h1v2h-1zM885,393h1v4h-1zM994,256h1v3h-1zM994,431h1v1h-1zM994,606h1v2h-1zM1099,606h1v2h-1zM926,31h1v2h-1zM926,292h1v2h-1zM926,552h1v2h-1zM60,144h1v1h-1zM60,321h1v2h-1zM1007,310h1v6h-1zM1007,449h1v2h-1zM1007,581h1v2h-1zM344,215h1v2h-1zM499,21h1v2h-1zM499,215h1v2h-1zM830,72h1v1h-1zM830,216h1v2h-1zM889,216h1v2h-1zM889,409h1v4h-1zM982,215h1v3h-1zM982,411h1v2h-1zM918,273h1v2h-1zM918,524h1v3h-1zM341,222h1v2h-1zM495,222h1v1h-1zM833,222h1v2h-1zM4,165h1v1h-1zM4,258h1v1h-1zM4,347h1v2h-1zM73,347h1v2h-1zM5,164h1v1h-1zM5,257h1v1h-1zM5,346h1v1h-1zM536,164h1v1h-1zM1095,602h1v1h-1zM343,217h1v3h-1zM343,365h1v1h-1zM414,56h1v3h-1zM414,218h1v2h-1zM497,120h1v1h-1zM497,219h1v1h-1zM831,71h1v1h-1zM831,145h1v1h-1zM831,218h1v2h-1zM195,262h1v3h-1zM195,394h1v2h-1zM319,264h1v1h-1zM856,56h1v2h-1zM856,159h1v1h-1zM856,263h1v3h-1zM914,264h1v2h-1zM914,510h1v4h-1zM1160,450h1v1h-1zM107,405h1v1h-1zM1032,404h1v2h-1zM342,220h1v2h-1zM342,292h1v1h-1zM496,220h1v2h-1zM832,220h1v2h-1zM891,220h1v2h-1zM891,417h1v3h-1zM30,301h1v1h-1zM930,39h1v2h-1zM930,300h1v3h-1zM930,561h1v2h-1zM75,351h1v2h-1zM326,255h1v1h-1zM326,351h1v1h-1zM436,186h1v2h-1zM436,350h1v3h-1zM1171,459h1v2h-1zM373,173h1v1h-1zM28,233h1v1h-1zM520,37h1v1h-1zM520,182h1v1h-1zM835,226h1v2h-1zM1060,493h1v1h-1zM1060,565h1v1h-1zM913,262h1v2h-1zM913,507h1v3h-1zM526,42h1v1h-1zM526,177h1v1h-1zM67,335h1v2h-1zM464,148h1v1h-1zM464,289h1v2h-1zM1003,289h1v5h-1zM1003,444h1v1h-1zM1003,589h1v2h-1zM393,117h1v3h-1zM393,248h1v2h-1zM959,117h1v4h-1zM959,362h1v2h-1zM368,180h1v1h-1zM440,180h1v1h-1zM440,341h1v3h-1zM522,39h1v1h-1zM522,180h1v1h-1zM1064,571h1v1h-1zM167,175h1v2h-1zM167,308h1v1h-1zM371,175h1v2h-1zM535,163h1v1h-1zM482,131h1v1h-1zM482,246h1v2h-1zM847,247h1v1h-1zM991,245h1v4h-1zM991,427h1v1h-1zM82,129h1v1h-1zM82,365h1v2h-1zM297,366h1v2h-1zM1016,365h1v4h-1zM1016,555h1v1h-1zM7,254h1v1h-1zM7,342h1v2h-1zM70,341h1v2h-1zM574,58h1v1h-1zM150,142h1v1h-1zM150,293h1v1h-1zM356,196h1v2h-1zM429,27h1v1h-1zM429,196h1v1h-1zM429,363h1v1h-1zM512,196h1v2h-1zM20,240h1v1h-1zM20,315h1v2h-1zM363,187h1v1h-1zM363,281h1v1h-1zM327,254h1v1h-1zM327,352h1v1h-1zM389,129h1v4h-1zM389,254h1v2h-1zM478,134h1v1h-1zM478,254h1v3h-1zM828,74h1v1h-1zM828,143h1v1h-1zM828,212h1v2h-1zM370,177h1v1h-1zM79,131h1v1h-1zM79,359h1v2h-1zM76,133h1v1h-1zM76,353h1v2h-1zM305,353h1v1h-1zM955,103h1v3h-1zM955,352h1v3h-1zM955,601h1v1h-1zM301,358h1v2h-1zM432,192h1v1h-1zM432,359h1v1h-1zM1028,396h1v2h-1zM1028,538h1v1h-1zM906,248h1v2h-1zM906,474h1v5h-1zM23,237h1v1h-1zM23,309h1v2h-1zM455,159h1v1h-1zM455,309h1v3h-1zM1006,305h1v5h-1zM1006,448h1v1h-1zM1006,583h1v2h-1zM83,250h1v1h-1zM83,367h1v2h-1zM502,25h1v2h-1zM502,211h1v1h-1zM359,192h1v2h-1zM514,192h1v2h-1zM24,236h1v1h-1zM24,307h1v2h-1zM840,236h1v1h-1zM100,260h1v1h-1zM100,395h1v2h-1zM854,258h1v3h-1zM350,205h1v2h-1zM423,37h1v1h-1zM423,205h1v1h-1zM506,205h1v2h-1zM12,248h1v1h-1zM12,332h1v2h-1zM444,174h1v1h-1zM444,332h1v2h-1zM749,79h1v1h-1zM95,257h1v1h-1zM95,388h1v1h-1zM515,34h1v1h-1zM515,191h1v1h-1zM1253,531h1v1h-1zM25,235h1v1h-1zM25,305h1v2h-1zM1204,491h1v2h-1zM99,394h1v1h-1zM1027,394h1v2h-1zM1027,539h1v1h-1zM1041,418h1v1h-1zM1041,476h1v1h-1zM1041,539h1v1h-1zM63,140h1v1h-1zM63,327h1v2h-1zM110,408h1v1h-1zM1034,408h1v2h-1zM1066,497h1v1h-1zM1066,574h1v1h-1zM1201,497h1v2h-1zM422,38h1v2h-1zM422,206h1v2h-1zM1058,562h1v1h-1zM10,250h1v1h-1zM10,336h1v2h-1zM1197,504h1v1h-1zM537,165h1v1h-1zM36,296h1v1h-1zM49,159h1v1h-1zM49,296h1v2h-1zM928,35h1v2h-1zM928,296h1v2h-1zM928,556h1v2h-1zM845,245h1v1h-1zM1149,441h1v1h-1zM415,54h1v2h-1zM415,217h1v1h-1zM571,55h1v1h-1zM1070,580h1v1h-1zM1266,580h1v1h-1zM154,147h1v2h-1zM154,297h1v1h-1zM572,56h1v1h-1zM484,129h1v1h-1zM484,242h1v2h-1zM1072,501h1v1h-1zM1072,582h1v2h-1zM1263,583h1v1h-1zM528,44h1v1h-1zM528,174h1v1h-1zM548,174h1v1h-1zM138,281h1v1h-1zM138,431h1v1h-1zM933,45h1v2h-1zM933,307h1v2h-1zM933,567h1v2h-1zM330,249h1v2h-1zM330,355h1v1h-1zM481,248h1v2h-1zM849,249h1v1h-1zM992,249h1v3h-1zM992,428h1v1h-1zM69,339h1v2h-1zM541,169h1v1h-1zM191,250h1v3h-1zM191,401h1v2h-1zM480,250h1v2h-1zM850,250h1v1h-1zM573,57h1v1h-1zM1242,481h1v1h-1zM57,148h1v1h-1zM57,314h1v2h-1zM469,142h1v2h-1zM469,277h1v2h-1zM1093,600h1v1h-1zM853,255h1v3h-1zM114,411h1v1h-1zM1035,410h1v2h-1zM1100,608h1v1h-1zM1049,485h1v1h-1zM1049,549h1v1h-1zM1050,486h1v1h-1zM1050,550h1v1h-1zM89,378h1v2h-1zM1200,499h1v2h-1zM1102,610h1v1h-1zM132,425h1v1h-1zM71,242h1v1h-1zM71,343h1v2h-1zM401,93h1v3h-1zM401,237h1v1h-1zM148,139h1v1h-1zM148,291h1v1h-1zM148,443h1v1h-1zM104,401h1v2h-1zM309,350h1v1h-1zM1053,488h1v1h-1zM1053,554h1v2h-1zM1172,461h1v2h-1zM1067,575h1v2h-1zM1270,576h1v1h-1zM78,357h1v2h-1zM1068,577h1v1h-1zM1269,577h1v1h-1zM360,191h1v1h-1zM682,186h1v1h-1zM1268,578h1v1h-1zM333,242h1v2h-1zM333,358h1v1h-1zM109,407h1v1h-1zM121,417h1v1h-1zM1040,417h1v1h-1zM1040,475h1v1h-1zM846,246h1v1h-1zM1074,585h1v1h-1zM1261,585h1v1h-1zM851,251h1v2h-1zM80,248h1v1h-1zM80,361h1v2h-1zM299,362h1v2h-1zM1077,589h1v1h-1zM1256,589h1v1h-1zM740,72h1v1h-1zM1178,475h1v2h-1zM1178,617h1v1h-1zM1250,476h1v1h-1zM318,265h1v1h-1zM300,360h1v2h-1zM431,193h1v1h-1zM431,360h1v2h-1zM320,263h1v1h-1zM475,262h1v2h-1zM1203,493h1v2h-1zM143,286h1v1h-1zM143,439h1v1h-1zM501,24h1v1h-1zM501,212h1v2h-1zM1210,486h1v1h-1zM498,20h1v1h-1zM498,217h1v2h-1zM848,248h1v1h-1zM1073,584h1v1h-1zM1262,584h1v1h-1zM193,256h1v3h-1zM193,398h1v1h-1zM324,258h1v1h-1zM323,259h1v1h-1zM325,256h1v2h-1zM365,184h1v1h-1zM519,183h1v2h-1zM685,184h1v1h-1zM118,415h1v1h-1zM329,251h1v1h-1zM329,354h1v1h-1zM492,227h1v1h-1zM102,398h1v2h-1zM1159,449h1v1h-1zM304,354h1v1h-1zM1080,506h1v1h-1zM1080,593h1v1h-1zM1059,563h1v2h-1zM1193,507h1v1h-1zM98,392h1v2h-1zM438,183h1v1h-1zM438,346h1v2h-1zM115,412h1v1h-1zM1036,412h1v1h-1zM31,300h1v1h-1zM321,262h1v1h-1zM1247,478h1v1h-1zM346,211h1v2h-1zM419,44h1v2h-1zM419,211h1v2h-1zM133,426h1v1h-1zM467,145h1v1h-1zM467,282h1v2h-1zM103,400h1v1h-1zM27,303h1v1h-1zM1079,592h1v1h-1zM1098,605h1v1h-1zM1153,444h1v1h-1zM1251,475h1v1h-1zM139,282h1v1h-1zM139,432h1v2h-1zM1199,501h1v2h-1zM1166,454h1v1h-1zM122,418h1v1h-1zM1071,581h1v1h-1zM1265,581h1v1h-1zM746,77h1v1h-1zM1094,601h1v1h-1zM355,198h1v1h-1zM750,80h1v1h-1zM1052,553h1v1h-1zM1054,556h1v1h-1zM1055,557h1v2h-1zM1061,566h1v2h-1zM101,397h1v1h-1zM90,380h1v1h-1zM745,76h1v1h-1zM353,201h1v1h-1zM1264,582h1v1h-1zM744,75h1v1h-1zM1104,612h1v1h-1zM1083,508h1v1h-1zM1170,457h1v2h-1zM570,54h1v1h-1zM303,355h1v1h-1zM117,414h1v1h-1zM755,83h1v1h-1zM1155,446h1v1h-1zM1163,452h1v1h-1zM349,207h1v1h-1zM505,207h1v1h-1zM306,352h1v1h-1zM97,391h1v1h-1zM1271,575h1v1h-1zM1173,463h1v2h-1zM1062,568h1v1h-1zM106,404h1v1h-1zM1156,447h1v1h-1zM1088,511h1v1h-1z" fill="#3cb371"/>
<rect x="0" y="423" width="1614" height="2" fill="#ff0000"/>
<rect x="0" y="458" width="1614" height="2" fill="#ff0000"/>
<rect x="0" y="510" width="1614" height="2" fill="#ff8c00"/>
<rect x="0" y="544" width="1614" height="2" fill="#0000ff"/>
<rect x="0" y="582" width="1614" height="2" fill="#0000ff"/>
</g>
</g>
<g shape-rendering="crispEdges">
<line x1="1096.5" y1="602.5" x2="1270" y2="482.5" stroke="#ff0000" stroke-width="3.4"/>
<polygon points="1278,477 1265,480 1270.8,487.2" fill="#ff0000"/>
</g>
<g shape-rendering="crispEdges">
<rect x="1615" y="32" width="2" height="1" fill="#000"/>
<rect x="1615" y="65" width="2" height="1" fill="#000"/>
<rect x="1615" y="98" width="2" height="1" fill="#000"/>
<rect x="1615" y="131" width="2" height="1" fill="#000"/>
<rect x="1615" y="164" width="2" height="1" fill="#000"/>
<rect x="1615" y="197" width="2" height="1" fill="#000"/>
<rect x="1615" y="230" width="2" height="1" fill="#000"/>
<rect x="1615" y="263" width="2" height="1" fill="#000"/>
<rect x="1615" y="296" width="2" height="1" fill="#000"/>
<rect x="1615" y="329" width="2" height="1" fill="#000"/>
<rect x="1615" y="362" width="2" height="1" fill="#000"/>
<rect x="1615" y="395" width="2" height="1" fill="#000"/>
<rect x="1615" y="428" width="2" height="1" fill="#000"/>
<rect x="1615" y="461" width="2" height="1" fill="#000"/>
<rect x="1615" y="494" width="2" height="1" fill="#000"/>
<rect x="1615" y="527" width="2" height="1" fill="#000"/>
<rect x="1615" y="560" width="2" height="1" fill="#000"/>
<rect x="1615" y="593" width="2" height="1" fill="#000"/>
<rect x="1615" y="626" width="2" height="1" fill="#000"/>
</g>
<text x="1619.5" y="36" font-size="9.3" fill="#000" stroke="#000" stroke-width="0.12" textLength="39" lengthAdjust="spacingAndGlyphs" >4225.670</text>
<text x="1619.5" y="69" font-size="9.3" fill="#000" stroke="#000" stroke-width="0.12" textLength="39" lengthAdjust="spacingAndGlyphs" >4191.670</text>
<text x="1619.5" y="102" font-size="9.3" fill="#000" stroke="#000" stroke-width="0.12" textLength="39" lengthAdjust="spacingAndGlyphs" >4158.670</text>
<text x="1619.5" y="135" font-size="9.3" fill="#000" stroke="#000" stroke-width="0.12" textLength="39" lengthAdjust="spacingAndGlyphs" >4125.670</text>
<text x="1619.5" y="168" font-size="9.3" fill="#000" stroke="#000" stroke-width="0.12" textLength="39" lengthAdjust="spacingAndGlyphs" >4092.670</text>
<text x="1619.5" y="201" font-size="9.3" fill="#000" stroke="#000" stroke-width="0.12" textLength="39" lengthAdjust="spacingAndGlyphs" >4059.670</text>
<text x="1619.5" y="234" font-size="9.3" fill="#000" stroke="#000" stroke-width="0.12" textLength="39" lengthAdjust="spacingAndGlyphs" >4025.670</text>
<text x="1619.5" y="267" font-size="9.3" fill="#000" stroke="#000" stroke-width="0.12" textLength="39" lengthAdjust="spacingAndGlyphs" >3992.670</text>
<text x="1619.5" y="300" font-size="9.3" fill="#000" stroke="#000" stroke-width="0.12" textLength="39" lengthAdjust="spacingAndGlyphs" >3959.670</text>
<text x="1619.5" y="333" font-size="9.3" fill="#000" stroke="#000" stroke-width="0.12" textLength="39" lengthAdjust="spacingAndGlyphs" >3926.670</text>
<text x="1619.5" y="366" font-size="9.3" fill="#000" stroke="#000" stroke-width="0.12" textLength="39" lengthAdjust="spacingAndGlyphs" >3892.670</text>
<text x="1619.5" y="399" font-size="9.3" fill="#000" stroke="#000" stroke-width="0.12" textLength="39" lengthAdjust="spacingAndGlyphs" >3859.670</text>
<text x="1619.5" y="432" font-size="9.3" fill="#000" stroke="#000" stroke-width="0.12" textLength="39" lengthAdjust="spacingAndGlyphs" >3826.670</text>
<text x="1619.5" y="465" font-size="9.3" fill="#000" stroke="#000" stroke-width="0.12" textLength="39" lengthAdjust="spacingAndGlyphs" >3793.670</text>
<text x="1619.5" y="531" font-size="9.3" fill="#000" stroke="#000" stroke-width="0.12" textLength="39" lengthAdjust="spacingAndGlyphs" >3726.670</text>
<text x="1619.5" y="564" font-size="9.3" fill="#000" stroke="#000" stroke-width="0.12" textLength="39" lengthAdjust="spacingAndGlyphs" >3693.670</text>
<text x="1619.5" y="597" font-size="9.3" fill="#000" stroke="#000" stroke-width="0.12" textLength="39" lengthAdjust="spacingAndGlyphs" >3660.670</text>
<text x="1619.5" y="630" font-size="9.3" fill="#000" stroke="#000" stroke-width="0.12" textLength="39" lengthAdjust="spacingAndGlyphs" >3627.670</text>
<g shape-rendering="crispEdges">
<rect x="1616" y="418" width="46" height="11" fill="#ff0000"/>
<rect x="1616" y="453" width="46" height="11" fill="#ff0000"/>
<rect x="1616" y="489" width="46" height="11" fill="#000"/>
<rect x="1616" y="505" width="46" height="11" fill="#ff8c00"/>
<rect x="1616" y="539" width="46" height="11" fill="#0000ff"/>
<rect x="1616" y="577" width="46" height="11" fill="#0000ff"/>
</g>
<text x="1619.5" y="427" font-size="9.3" fill="#fff" stroke="#fff" stroke-width="0.12" textLength="39" lengthAdjust="spacingAndGlyphs" >3830.770</text>
<text x="1619.5" y="462" font-size="9.3" fill="#fff" stroke="#fff" stroke-width="0.12" textLength="39" lengthAdjust="spacingAndGlyphs" >3795.582</text>
<text x="1619.5" y="498" font-size="9.3" fill="#fff" stroke="#fff" stroke-width="0.12" textLength="39" lengthAdjust="spacingAndGlyphs" >3760.050</text>
<text x="1619.5" y="514" font-size="9.3" fill="#fff" stroke="#fff" stroke-width="0.12" textLength="39" lengthAdjust="spacingAndGlyphs" >3743.303</text>
<text x="1619.5" y="548" font-size="9.3" fill="#fff" stroke="#fff" stroke-width="0.12" textLength="39" lengthAdjust="spacingAndGlyphs" >3709.121</text>
<text x="1619.5" y="586" font-size="9.3" fill="#fff" stroke="#fff" stroke-width="0.12" textLength="39" lengthAdjust="spacingAndGlyphs" >3670.917</text>
<g shape-rendering="crispEdges">
<rect x="0" y="33" width="1" height="1" fill="#000"/>
</g>
<text x="6" y="37.7" font-size="9.3" fill="#000" stroke="#000" stroke-width="0.12" textLength="212.5" lengthAdjust="spacingAndGlyphs" >SP500-,H4  3760.050 3760.050 3760.050 3760.050</text>
<g shape-rendering="crispEdges">
<rect x="-2" y="686" width="3" height="9" fill="#00ff00"/>
<rect x="6" y="682" width="3" height="13" fill="#00ff00"/>
<rect x="14" y="679" width="3" height="16" fill="#00ff00"/>
<rect x="22" y="679" width="3" height="16" fill="#00ff00"/>
<rect x="30" y="677" width="3" height="18" fill="#00ff00"/>
<rect x="38" y="679" width="3" height="16" fill="#00ff00"/>
<rect x="46" y="686" width="3" height="9" fill="#00ff00"/>
<rect x="54" y="695" width="3" height="1" fill="#00ff00"/>
<rect x="62" y="695" width="3" height="9" fill="#00ff00"/>
<rect x="70" y="695" width="3" height="14" fill="#00ff00"/>
<rect x="78" y="695" width="3" height="21" fill="#00ff00"/>
<rect x="86" y="695" width="3" height="25" fill="#00ff00"/>
<rect x="94" y="695" width="3" height="26" fill="#00ff00"/>
<rect x="102" y="695" width="3" height="29" fill="#00ff00"/>
<rect x="110" y="695" width="3" height="30" fill="#00ff00"/>
<rect x="118" y="695" width="3" height="29" fill="#00ff00"/>
<rect x="126" y="695" width="3" height="27" fill="#00ff00"/>
<rect x="134" y="695" width="3" height="26" fill="#00ff00"/>
<rect x="142" y="695" width="3" height="28" fill="#00ff00"/>
<rect x="150" y="695" width="3" height="28" fill="#00ff00"/>
<rect x="158" y="695" width="3" height="25" fill="#00ff00"/>
<rect x="166" y="695" width="3" height="23" fill="#00ff00"/>
<rect x="174" y="695" width="3" height="20" fill="#00ff00"/>
<rect x="182" y="695" width="3" height="18" fill="#00ff00"/>
<rect x="190" y="695" width="3" height="14" fill="#00ff00"/>
<rect x="198" y="695" width="3" height="10" fill="#00ff00"/>
<rect x="206" y="695" width="3" height="9" fill="#00ff00"/>
<rect x="214" y="695" width="3" height="9" fill="#00ff00"/>
<rect x="222" y="695" width="3" height="9" fill="#00ff00"/>
<rect x="230" y="695" width="3" height="10" fill="#00ff00"/>
<rect x="238" y="695" width="3" height="11" fill="#00ff00"/>
<rect x="246" y="695" width="3" height="9" fill="#00ff00"/>
<rect x="254" y="695" width="3" height="7" fill="#00ff00"/>
<rect x="262" y="695" width="3" height="5" fill="#00ff00"/>
<rect x="270" y="695" width="3" height="4" fill="#00ff00"/>
<rect x="278" y="695" width="3" height="4" fill="#00ff00"/>
<rect x="286" y="695" width="3" height="4" fill="#00ff00"/>
<rect x="294" y="695" width="3" height="1" fill="#00ff00"/>
<rect x="302" y="694" width="3" height="1" fill="#00ff00"/>
<rect x="310" y="691" width="3" height="4" fill="#00ff00"/>
<rect x="318" y="689" width="3" height="6" fill="#00ff00"/>
<rect x="326" y="687" width="3" height="8" fill="#00ff00"/>
<rect x="334" y="681" width="3" height="14" fill="#00ff00"/>
<rect x="342" y="677" width="3" height="18" fill="#00ff00"/>
<rect x="350" y="674" width="3" height="21" fill="#00ff00"/>
<rect x="358" y="672" width="3" height="23" fill="#00ff00"/>
<rect x="366" y="670" width="3" height="25" fill="#00ff00"/>
<rect x="374" y="668" width="3" height="27" fill="#00ff00"/>
<rect x="382" y="663" width="3" height="32" fill="#00ff00"/>
<rect x="390" y="656" width="3" height="39" fill="#00ff00"/>
<rect x="398" y="651" width="3" height="44" fill="#00ff00"/>
<rect x="406" y="646" width="3" height="49" fill="#00ff00"/>
<rect x="414" y="642" width="3" height="53" fill="#00ff00"/>
<rect x="422" y="640" width="3" height="55" fill="#00ff00"/>
<rect x="430" y="640" width="3" height="55" fill="#00ff00"/>
<rect x="438" y="639" width="3" height="56" fill="#00ff00"/>
<rect x="446" y="640" width="3" height="55" fill="#00ff00"/>
<rect x="454" y="643" width="3" height="52" fill="#00ff00"/>
<rect x="462" y="647" width="3" height="48" fill="#00ff00"/>
<rect x="470" y="651" width="3" height="44" fill="#00ff00"/>
<rect x="478" y="654" width="3" height="41" fill="#00ff00"/>
<rect x="486" y="658" width="3" height="37" fill="#00ff00"/>
<rect x="494" y="660" width="3" height="35" fill="#00ff00"/>
<rect x="502" y="663" width="3" height="32" fill="#00ff00"/>
<rect x="510" y="665" width="3" height="30" fill="#00ff00"/>
<rect x="518" y="667" width="3" height="28" fill="#00ff00"/>
<rect x="526" y="674" width="3" height="21" fill="#00ff00"/>
<rect x="534" y="678" width="3" height="17" fill="#00ff00"/>
<rect x="542" y="682" width="3" height="13" fill="#00ff00"/>
<rect x="550" y="685" width="3" height="10" fill="#00ff00"/>
<rect x="558" y="686" width="3" height="9" fill="#00ff00"/>
<rect x="566" y="687" width="3" height="8" fill="#00ff00"/>
<rect x="574" y="687" width="3" height="8" fill="#00ff00"/>
<rect x="582" y="683" width="3" height="12" fill="#00ff00"/>
<rect x="590" y="680" width="3" height="15" fill="#00ff00"/>
<rect x="598" y="678" width="3" height="17" fill="#00ff00"/>
<rect x="606" y="678" width="3" height="17" fill="#00ff00"/>
<rect x="614" y="679" width="3" height="16" fill="#00ff00"/>
<rect x="622" y="683" width="3" height="12" fill="#00ff00"/>
<rect x="630" y="686" width="3" height="9" fill="#00ff00"/>
<rect x="638" y="689" width="3" height="6" fill="#00ff00"/>
<rect x="646" y="689" width="3" height="6" fill="#00ff00"/>
<rect x="654" y="689" width="3" height="6" fill="#00ff00"/>
<rect x="662" y="688" width="3" height="7" fill="#00ff00"/>
<rect x="670" y="688" width="3" height="7" fill="#00ff00"/>
<rect x="678" y="690" width="3" height="5" fill="#00ff00"/>
<rect x="686" y="691" width="3" height="4" fill="#00ff00"/>
<rect x="694" y="693" width="3" height="2" fill="#00ff00"/>
<rect x="702" y="695" width="3" height="1" fill="#00ff00"/>
<rect x="710" y="695" width="3" height="4" fill="#00ff00"/>
<rect x="718" y="695" width="3" height="3" fill="#00ff00"/>
<rect x="726" y="694" width="3" height="1" fill="#00ff00"/>
<rect x="734" y="694" width="3" height="1" fill="#00ff00"/>
<rect x="742" y="692" width="3" height="3" fill="#00ff00"/>
<rect x="750" y="691" width="3" height="4" fill="#00ff00"/>
<rect x="758" y="690" width="3" height="5" fill="#00ff00"/>
<rect x="766" y="689" width="3" height="6" fill="#00ff00"/>
<rect x="774" y="691" width="3" height="4" fill="#00ff00"/>
<rect x="782" y="693" width="3" height="2" fill="#00ff00"/>
<rect x="790" y="694" width="3" height="1" fill="#00ff00"/>
<rect x="798" y="695" width="3" height="1" fill="#00ff00"/>
<rect x="806" y="695" width="3" height="1" fill="#00ff00"/>
<rect x="814" y="695" width="3" height="4" fill="#00ff00"/>
<rect x="822" y="695" width="3" height="11" fill="#00ff00"/>
<rect x="830" y="695" width="3" height="17" fill="#00ff00"/>
<rect x="838" y="695" width="3" height="20" fill="#00ff00"/>
<rect x="846" y="695" width="3" height="24" fill="#00ff00"/>
<rect x="854" y="695" width="3" height="27" fill="#00ff00"/>
<rect x="862" y="695" width="3" height="36" fill="#00ff00"/>
<rect x="870" y="695" width="3" height="44" fill="#00ff00"/>
<rect x="878" y="695" width="3" height="52" fill="#00ff00"/>
<rect x="886" y="695" width="3" height="59" fill="#00ff00"/>
<rect x="894" y="695" width="3" height="66" fill="#00ff00"/>
<rect x="902" y="695" width="3" height="72" fill="#00ff00"/>
<rect x="910" y="695" width="3" height="77" fill="#00ff00"/>
<rect x="918" y="695" width="3" height="83" fill="#00ff00"/>
<rect x="926" y="695" width="3" height="85" fill="#00ff00"/>
<rect x="934" y="695" width="3" height="85" fill="#00ff00"/>
<rect x="942" y="695" width="3" height="83" fill="#00ff00"/>
<rect x="950" y="695" width="3" height="83" fill="#00ff00"/>
<rect x="958" y="695" width="3" height="83" fill="#00ff00"/>
<rect x="966" y="695" width="3" height="81" fill="#00ff00"/>
<rect x="974" y="695" width="3" height="79" fill="#00ff00"/>
<rect x="982" y="695" width="3" height="77" fill="#00ff00"/>
<rect x="990" y="695" width="3" height="73" fill="#00ff00"/>
<rect x="998" y="695" width="3" height="69" fill="#00ff00"/>
<rect x="1006" y="695" width="3" height="64" fill="#00ff00"/>
<rect x="1014" y="695" width="3" height="59" fill="#00ff00"/>
<rect x="1022" y="695" width="3" height="52" fill="#00ff00"/>
<rect x="1030" y="695" width="3" height="47" fill="#00ff00"/>
<rect x="1038" y="695" width="3" height="49" fill="#00ff00"/>
<rect x="1046" y="695" width="3" height="50" fill="#00ff00"/>
<rect x="1054" y="695" width="3" height="54" fill="#00ff00"/>
<rect x="1062" y="695" width="3" height="56" fill="#00ff00"/>
<rect x="1070" y="695" width="3" height="57" fill="#00ff00"/>
<rect x="1078" y="695" width="3" height="56" fill="#00ff00"/>
<rect x="1086" y="695" width="3" height="54" fill="#00ff00"/>
<rect x="1094" y="695" width="3" height="52" fill="#00ff00"/>
<rect x="1102" y="695" width="3" height="52" fill="#00ff00"/>
<rect x="1110" y="695" width="3" height="50" fill="#00ff00"/>
<rect x="1118" y="695" width="3" height="47" fill="#00ff00"/>
<rect x="1126" y="695" width="3" height="45" fill="#00ff00"/>
<rect x="1134" y="695" width="3" height="42" fill="#00ff00"/>
<rect x="1142" y="695" width="3" height="39" fill="#00ff00"/>
<rect x="1150" y="695" width="3" height="35" fill="#00ff00"/>
<rect x="1158" y="695" width="3" height="31" fill="#00ff00"/>
<rect x="1166" y="695" width="3" height="28" fill="#00ff00"/>
<rect x="1174" y="695" width="3" height="24" fill="#00ff00"/>
<rect x="1182" y="695" width="3" height="20" fill="#00ff00"/>
<rect x="1190" y="695" width="3" height="18" fill="#00ff00"/>
<rect x="1198" y="695" width="3" height="14" fill="#00ff00"/>
<rect x="1206" y="695" width="3" height="10" fill="#00ff00"/>
<rect x="1214" y="695" width="3" height="6" fill="#00ff00"/>
<rect x="1222" y="695" width="3" height="6" fill="#00ff00"/>
<rect x="1230" y="695" width="3" height="9" fill="#00ff00"/>
<rect x="1238" y="695" width="3" height="9" fill="#00ff00"/>
<rect x="1246" y="695" width="3" height="6" fill="#00ff00"/>
<rect x="1254" y="695" width="3" height="3" fill="#00ff00"/>
<rect x="1262" y="695" width="3" height="2" fill="#00ff00"/>
<rect x="1270" y="694" width="3" height="1" fill="#00ff00"/>
<rect x="1615" y="695" width="1" height="1" fill="#000"/>
<rect x="1615" y="633" width="1" height="1" fill="#000"/>
<rect x="1615" y="786" width="1" height="1" fill="#000"/>
<rect x="1615" y="791" width="1" height="1" fill="#000"/>
<rect x="1615" y="926" width="1" height="1" fill="#000"/>
</g>
<polyline points="0.0,695.5 15.0,690.5 30.0,686.7 42.5,683.5 52.5,682.5 62.5,684.5 75.0,688.5 87.5,694.2 100.0,702.5 112.5,710.5 125.0,716.7 137.5,720.5 150.0,721.2 162.5,721.2 175.0,720.5 187.5,718.0 200.0,715.5 212.5,713.0 225.0,709.2 240.0,706.2 255.0,704.2 270.0,702.5 285.0,701.5 300.0,699.7 315.0,696.7 330.0,693.5 345.0,690.0 360.0,684.2 375.0,678.0 390.0,671.7 400.0,667.5 415.0,659.2 430.0,653.0 445.0,646.7 455.0,644.2 467.5,643.0 480.0,644.5 495.0,648.5 510.0,654.2 525.0,659.2 540.0,665.5 550.0,670.5 560.0,674.7 570.0,677.5 580.0,680.5 590.0,682.5 615.0,682.5 620.0,681.7 630.0,681.7 635.0,682.7 655.0,682.7 662.5,684.2 670.0,685.0 680.0,687.5 695.0,689.2 710.0,691.2 722.5,692.7 735.0,693.5 750.0,694.0 767.5,694.0 770.0,693.0 785.0,692.5 805.0,692.5 812.5,693.0 825.0,696.0 837.5,700.5 850.0,705.0 862.5,710.0 872.5,715.5 885.0,725.5 900.0,736.7 915.0,749.2 927.5,759.2 942.5,768.5 955.0,773.5 965.0,776.0 990.0,776.0 1000.0,773.7 1012.5,770.0 1025.0,765.0 1037.5,758.5 1050.0,753.7 1062.5,750.0 1075.0,748.5 1087.5,747.2 1125.0,747.2 1137.5,744.2 1150.0,741.0 1162.5,736.7 1175.0,733.0 1187.5,728.0 1200.0,722.0 1214.0,715.0 1231.0,709.0 1247.5,704.7 1264.0,701.0 1271.5,700.8" fill="none" stroke="#ff0000" stroke-width="2" shape-rendering="crispEdges" stroke-linejoin="round"/>
<text x="-2" y="644" font-size="9.3" fill="#000" stroke="#000" stroke-width="0.12" textLength="128" lengthAdjust="spacingAndGlyphs" >MACD(12,26,9) 0.5284 -5.4399</text>
<text x="1617.5" y="642" font-size="9.3" fill="#000" stroke="#000" stroke-width="0.12" textLength="34" lengthAdjust="spacingAndGlyphs" >66.8576</text>
<text x="1617.7" y="699" font-size="9.3" fill="#000" stroke="#000" stroke-width="0.12" textLength="18.6" lengthAdjust="spacingAndGlyphs" >0.00</text>
<text x="1617.9" y="784" font-size="9.3" fill="#000" stroke="#000" stroke-width="0.12" textLength="31.6" lengthAdjust="spacingAndGlyphs" >-98.733</text>
<g shape-rendering="crispEdges">
<line x1="0" y1="818.5" x2="1614" y2="818.5" stroke="#000" stroke-width="1" stroke-dasharray="3,3" stroke-dashoffset="2"/>
<line x1="0" y1="858.5" x2="1614" y2="858.5" stroke="#000" stroke-width="1" stroke-dasharray="3,3" stroke-dashoffset="2"/>
<line x1="0" y1="906.5" x2="1614" y2="906.5" stroke="#000" stroke-width="1" stroke-dasharray="3,3" stroke-dashoffset="2"/>
</g>
<polyline points="-0.5,844.0 7.5,838.5 15.5,838.5 23.5,844.5 31.5,844.7 39.5,851.5 47.5,874.5 55.5,881.5 63.5,885.2 71.5,877.0 79.5,882.0 87.5,882.0 95.5,874.0 103.5,877.2 111.5,874.5 119.5,870.2 127.5,866.0 135.5,866.0 143.5,879.0 151.5,870.2 159.5,863.2 167.5,863.2 175.5,862.0 183.5,862.0 191.5,855.2 199.5,855.2 207.5,861.0 215.5,861.5 223.5,865.0 231.5,865.0 239.5,869.5 247.5,859.0 255.5,855.2 263.5,854.0 271.5,859.0 279.5,864.5 287.5,857.0 295.5,852.0 303.5,853.0 311.5,853.0 319.5,848.5 327.5,846.5 335.5,837.2 343.5,837.0 351.5,835.7 359.5,839.0 367.5,838.5 375.5,837.7 383.5,825.2 391.5,822.2 399.5,820.5 407.5,820.2 415.5,817.5 423.5,822.2 431.5,824.0 439.5,824.0 447.5,826.5 455.5,832.7 463.5,843.0 471.5,843.0 479.5,841.0 487.5,849.0 495.5,844.0 503.5,844.0 511.5,847.0 519.5,846.0 527.5,868.2 535.5,863.0 543.5,865.2 551.5,861.5 559.5,858.2 567.5,854.2 575.5,854.0 583.5,840.0 591.5,838.5 599.5,841.0 607.5,844.7 615.5,853.5 623.5,864.0 631.5,864.0 639.5,864.0 647.5,857.2 655.5,851.0 663.5,849.7 671.5,854.7 679.5,861.0 687.5,861.0 695.5,866.7 703.5,866.7 711.5,871.2 719.5,859.5 727.5,849.0 735.5,852.5 743.5,854.0 751.5,854.0 759.5,852.0 767.5,852.0 775.5,864.0 783.5,863.0 791.5,864.0 799.5,864.0 807.5,859.5 815.5,869.5 823.5,887.0 831.5,884.0 839.5,884.0 847.5,886.0 855.5,886.0 863.5,899.7 871.5,900.2 879.5,903.5 887.5,904.5 895.5,906.5 903.5,907.5 911.5,908.5 919.5,910.0 927.5,905.5 935.5,899.5 943.5,894.0 951.5,897.7 959.5,898.2 967.5,899.0 975.5,892.0 983.5,892.0 991.5,889.5 999.5,883.5 1007.5,883.0 1015.5,877.0 1023.5,868.0 1031.5,870.2 1039.5,886.7 1047.5,887.0 1055.5,891.5 1063.5,892.0 1071.5,892.0 1079.5,886.5 1087.5,882.5 1095.5,882.0 1103.5,887.0 1111.5,884.7 1119.5,874.0 1127.5,877.0 1135.5,875.5 1143.5,872.0 1151.5,868.2 1159.5,868.0 1167.5,868.0 1175.5,862.5 1183.5,859.0 1191.5,862.0 1199.5,852.0 1207.5,850.7 1215.5,851.0 1223.5,862.3 1231.5,871.0 1239.5,866.0 1247.5,852.5 1255.5,852.5 1263.5,852.5 1271.5,852.5" fill="none" stroke="#1e90ff" stroke-width="2" shape-rendering="crispEdges" stroke-linejoin="round"/>
<text x="-5" y="801.8" font-size="9.3" fill="#000" stroke="#000" stroke-width="0.12" textLength="68" lengthAdjust="spacingAndGlyphs" >RSI(14) 53.8232</text>
<text x="1618" y="799.6" font-size="9.3" fill="#000" stroke="#000" stroke-width="0.12" textLength="15.5" lengthAdjust="spacingAndGlyphs" >100</text>
<text x="1617" y="821.6" font-size="9.3" fill="#000" stroke="#000" stroke-width="0.12" textLength="10.5" lengthAdjust="spacingAndGlyphs" >80</text>
<text x="1617" y="861.6" font-size="9.3" fill="#000" stroke="#000" stroke-width="0.12" textLength="10.5" lengthAdjust="spacingAndGlyphs" >50</text>
<text x="1617" y="909.6" font-size="9.3" fill="#000" stroke="#000" stroke-width="0.12" textLength="10.5" lengthAdjust="spacingAndGlyphs" >15</text>
<text x="1618" y="923.8" font-size="9.3" fill="#000" stroke="#000" stroke-width="0.12" textLength="5.2" lengthAdjust="spacingAndGlyphs" >0</text>
<g shape-rendering="crispEdges">
<rect x="-9" y="928" width="1" height="4" fill="#000"/>
<rect x="55" y="928" width="1" height="4" fill="#000"/>
<rect x="119" y="928" width="1" height="4" fill="#000"/>
<rect x="183" y="928" width="1" height="4" fill="#000"/>
<rect x="247" y="928" width="1" height="4" fill="#000"/>
<rect x="311" y="928" width="1" height="4" fill="#000"/>
<rect x="375" y="928" width="1" height="4" fill="#000"/>
<rect x="439" y="928" width="1" height="4" fill="#000"/>
<rect x="503" y="928" width="1" height="4" fill="#000"/>
<rect x="567" y="928" width="1" height="4" fill="#000"/>
<rect x="631" y="928" width="1" height="4" fill="#000"/>
<rect x="695" y="928" width="1" height="4" fill="#000"/>
<rect x="759" y="928" width="1" height="4" fill="#000"/>
<rect x="823" y="928" width="1" height="4" fill="#000"/>
<rect x="887" y="928" width="1" height="4" fill="#000"/>
<rect x="951" y="928" width="1" height="4" fill="#000"/>
<rect x="1015" y="928" width="1" height="4" fill="#000"/>
<rect x="1079" y="928" width="1" height="4" fill="#000"/>
<rect x="1143" y="928" width="1" height="4" fill="#000"/>
<rect x="1207" y="928" width="1" height="4" fill="#000"/>
<rect x="1271" y="928" width="1" height="4" fill="#000"/>
</g>
<text x="-9.5" y="940" font-size="9.3" fill="#000" stroke="#000" stroke-width="0.12" textLength="54.5" lengthAdjust="spacingAndGlyphs" >17 May 2022</text>
<text x="54.5" y="940" font-size="9.3" fill="#000" stroke="#000" stroke-width="0.12" textLength="57.5" lengthAdjust="spacingAndGlyphs" >18 May 16:00</text>
<text x="118.5" y="940" font-size="9.3" fill="#000" stroke="#000" stroke-width="0.12" textLength="57.5" lengthAdjust="spacingAndGlyphs" >20 May 00:00</text>
<text x="182.5" y="940" font-size="9.3" fill="#000" stroke="#000" stroke-width="0.12" textLength="57.5" lengthAdjust="spacingAndGlyphs" >23 May 08:00</text>
<text x="246.5" y="940" font-size="9.3" fill="#000" stroke="#000" stroke-width="0.12" textLength="57.5" lengthAdjust="spacingAndGlyphs" >24 May 16:00</text>
<text x="310.5" y="940" font-size="9.3" fill="#000" stroke="#000" stroke-width="0.12" textLength="57.5" lengthAdjust="spacingAndGlyphs" >26 May 00:00</text>
<text x="374.5" y="940" font-size="9.3" fill="#000" stroke="#000" stroke-width="0.12" textLength="57.5" lengthAdjust="spacingAndGlyphs" >27 May 08:00</text>
<text x="438.5" y="940" font-size="9.3" fill="#000" stroke="#000" stroke-width="0.12" textLength="57.5" lengthAdjust="spacingAndGlyphs" >30 May 16:00</text>
<text x="502.5" y="940" font-size="9.3" fill="#000" stroke="#000" stroke-width="0.12" textLength="47.5" lengthAdjust="spacingAndGlyphs" >1 Jun 00:00</text>
<text x="566.5" y="940" font-size="9.3" fill="#000" stroke="#000" stroke-width="0.12" textLength="47.5" lengthAdjust="spacingAndGlyphs" >2 Jun 08:00</text>
<text x="630.5" y="940" font-size="9.3" fill="#000" stroke="#000" stroke-width="0.12" textLength="47.5" lengthAdjust="spacingAndGlyphs" >3 Jun 16:00</text>
<text x="694.5" y="940" font-size="9.3" fill="#000" stroke="#000" stroke-width="0.12" textLength="47.5" lengthAdjust="spacingAndGlyphs" >7 Jun 00:00</text>
<text x="758.5" y="940" font-size="9.3" fill="#000" stroke="#000" stroke-width="0.12" textLength="47.5" lengthAdjust="spacingAndGlyphs" >8 Jun 08:00</text>
<text x="822.5" y="940" font-size="9.3" fill="#000" stroke="#000" stroke-width="0.12" textLength="47.5" lengthAdjust="spacingAndGlyphs" >9 Jun 16:00</text>
<text x="886.5" y="940" font-size="9.3" fill="#000" stroke="#000" stroke-width="0.12" textLength="52.5" lengthAdjust="spacingAndGlyphs" >13 Jun 00:00</text>
<text x="950.5" y="940" font-size="9.3" fill="#000" stroke="#000" stroke-width="0.12" textLength="52.5" lengthAdjust="spacingAndGlyphs" >14 Jun 08:00</text>
<text x="1014.5" y="940" font-size="9.3" fill="#000" stroke="#000" stroke-width="0.12" textLength="52.5" lengthAdjust="spacingAndGlyphs" >15 Jun 16:00</text>
<text x="1078.5" y="940" font-size="9.3" fill="#000" stroke="#000" stroke-width="0.12" textLength="52.5" lengthAdjust="spacingAndGlyphs" >17 Jun 00:00</text>
<text x="1142.5" y="940" font-size="9.3" fill="#000" stroke="#000" stroke-width="0.12" textLength="52.5" lengthAdjust="spacingAndGlyphs" >20 Jun 08:00</text>
<text x="1206.5" y="940" font-size="9.3" fill="#000" stroke="#000" stroke-width="0.12" textLength="52.5" lengthAdjust="spacingAndGlyphs" >21 Jun 16:00</text>
<text x="1270.5" y="940" font-size="9.3" fill="#000" stroke="#000" stroke-width="0.12" textLength="52.5" lengthAdjust="spacingAndGlyphs" >22 Jun 20:30</text>
</svg>
</body></html>
